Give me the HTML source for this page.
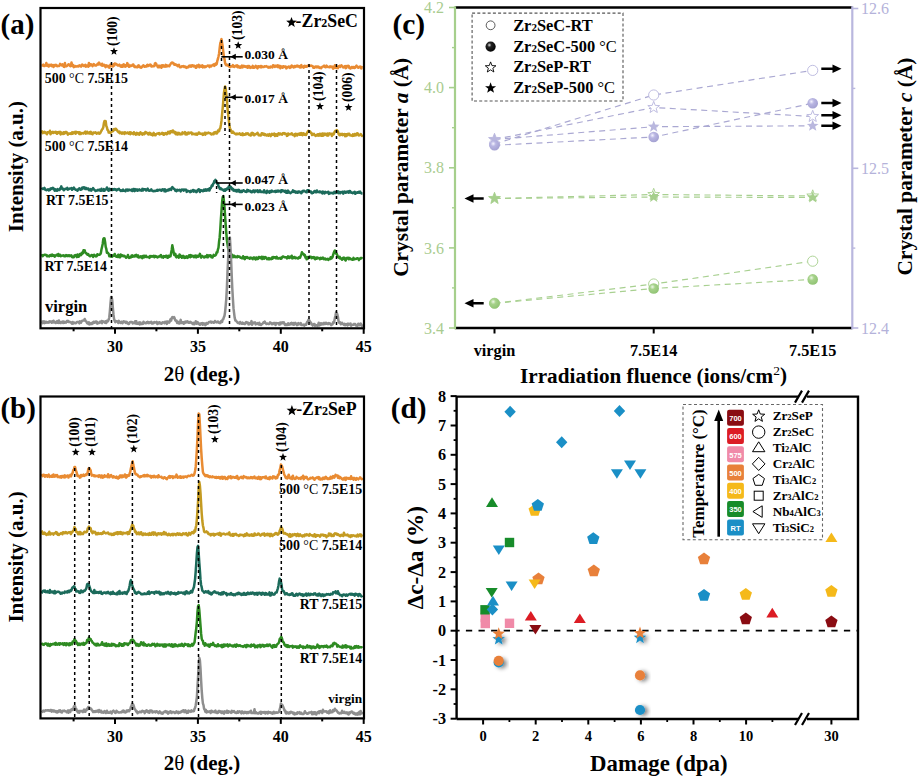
<!DOCTYPE html>
<html><head><meta charset="utf-8"><style>
html,body{margin:0;padding:0;background:#fff;width:918px;height:780px;overflow:hidden}
svg{display:block}
</style></head><body>
<svg width="918" height="780" viewBox="0 0 918 780">
<defs>
<radialGradient id="gLV" cx="0.38" cy="0.35" r="0.7"><stop offset="0" stop-color="#f4f3ff"/><stop offset="0.35" stop-color="#b9b6e2"/><stop offset="1" stop-color="#a29fd0"/></radialGradient>
<radialGradient id="gGL" cx="0.38" cy="0.35" r="0.7"><stop offset="0" stop-color="#eef8e6"/><stop offset="0.35" stop-color="#a6d28a"/><stop offset="1" stop-color="#8fc272"/></radialGradient>
<radialGradient id="gBK" cx="0.38" cy="0.35" r="0.7"><stop offset="0" stop-color="#ddd"/><stop offset="0.3" stop-color="#222"/><stop offset="1" stop-color="#000"/></radialGradient>
<filter id="sh" x="-50%" y="-50%" width="200%" height="200%"><feGaussianBlur in="SourceAlpha" stdDeviation="2.3"/><feOffset dx="2.8" dy="1.0"/><feComponentTransfer><feFuncA type="linear" slope="0.5"/></feComponentTransfer><feMerge><feMergeNode/><feMergeNode in="SourceGraphic"/></feMerge></filter>
</defs>
<rect width="918" height="780" fill="#fff"/>
<polyline points="41.5,65.7 42.1,65.6 42.7,65.3 43.3,64.7 43.9,66.0 44.5,66.1 45.1,65.5 45.7,65.0 46.3,63.0 46.9,65.7 47.5,65.2 48.1,64.7 48.7,66.5 49.3,64.9 49.9,65.8 50.5,65.3 51.1,64.7 51.7,66.1 52.3,65.0 52.9,65.6 53.5,67.0 54.1,65.0 54.7,65.9 55.3,65.2 55.9,64.8 56.5,65.1 57.1,66.3 57.7,66.0 58.3,66.0 58.9,66.1 59.5,65.5 60.1,63.9 60.7,64.5 61.3,65.0 61.9,65.4 62.5,64.3 63.1,64.9 63.7,66.7 64.3,66.9 64.9,63.1 65.5,66.2 66.1,66.2 66.7,66.2 67.3,65.6 67.9,65.1 68.5,64.3 69.1,64.4 69.7,65.5 70.3,66.2 70.9,66.0 71.5,62.4 72.1,65.2 72.7,66.1 73.3,65.0 73.9,67.1 74.5,66.9 75.1,66.4 75.7,66.1 76.3,66.6 76.9,66.4 77.5,66.1 78.1,66.6 78.7,66.4 79.3,65.4 79.9,66.1 80.5,66.1 81.1,66.7 81.7,64.9 82.3,64.5 82.9,65.3 83.5,65.8 84.1,66.1 84.7,65.5 85.3,64.8 85.9,66.7 86.5,65.7 87.1,65.6 87.7,66.3 88.3,66.6 88.9,63.0 89.5,65.9 90.1,65.3 90.7,64.2 91.3,64.4 91.9,65.2 92.5,66.2 93.1,64.9 93.7,64.1 94.3,64.5 94.9,65.4 95.5,65.4 96.1,65.6 96.7,65.1 97.3,64.3 97.9,63.6 98.5,64.4 99.1,62.6 99.7,64.0 100.3,64.5 100.9,64.4 101.5,65.5 102.1,63.8 102.7,65.7 103.3,65.6 103.9,64.7 104.5,65.0 105.1,66.4 105.7,67.1 106.3,65.4 106.9,65.8 107.5,66.4 108.1,65.8 108.7,67.4 109.3,67.7 109.9,65.8 110.5,64.6 111.1,66.0 111.7,66.1 112.3,65.6 112.9,66.5 113.5,64.2 114.1,65.7 114.7,63.5 115.3,63.7 115.9,63.7 116.5,64.6 117.1,64.6 117.7,65.4 118.3,65.5 118.9,65.3 119.5,64.6 120.1,65.6 120.7,66.6 121.3,66.7 121.9,65.4 122.5,66.8 123.1,64.8 123.7,64.4 124.3,66.1 124.9,65.1 125.5,66.7 126.1,65.5 126.7,66.0 127.3,63.1 127.9,65.6 128.5,64.6 129.1,66.8 129.7,66.6 130.3,65.5 130.9,65.7 131.5,66.0 132.1,65.3 132.7,64.7 133.3,64.5 133.9,66.4 134.5,65.8 135.1,67.2 135.7,66.8 136.3,66.8 136.9,67.3 137.5,67.2 138.1,65.7 138.7,65.4 139.3,66.8 139.9,67.2 140.5,66.9 141.1,67.7 141.7,67.2 142.3,66.4 142.9,65.7 143.5,65.4 144.1,66.5 144.7,66.8 145.3,66.5 145.9,66.1 146.5,66.5 147.1,64.9 147.7,64.8 148.3,65.9 148.9,65.3 149.5,65.4 150.1,64.6 150.7,64.7 151.3,66.4 151.9,66.4 152.5,66.0 153.1,66.3 153.7,66.3 154.3,66.1 154.9,63.5 155.5,63.1 156.1,63.6 156.7,65.4 157.3,65.8 157.9,67.2 158.5,65.7 159.1,67.3 159.7,65.9 160.3,66.6 160.9,65.8 161.5,67.8 162.1,65.3 162.7,66.5 163.3,65.3 163.9,66.5 164.5,66.2 165.1,66.6 165.7,64.9 166.3,66.5 166.9,65.3 167.5,66.1 168.1,65.7 168.7,65.7 169.3,66.2 169.9,64.9 170.5,64.2 171.1,63.2 171.7,62.7 172.3,62.5 172.9,63.3 173.5,63.1 174.1,64.6 174.7,64.8 175.3,64.2 175.9,64.7 176.5,65.2 177.1,65.0 177.7,66.2 178.3,65.5 178.9,64.8 179.5,66.7 180.1,67.3 180.7,67.2 181.3,66.7 181.9,66.2 182.5,66.5 183.1,66.5 183.7,66.0 184.3,67.0 184.9,67.1 185.5,66.6 186.1,67.7 186.7,67.9 187.3,67.0 187.9,66.9 188.5,67.2 189.1,65.7 189.7,65.9 190.3,65.6 190.9,66.8 191.5,65.8 192.1,65.2 192.7,65.4 193.3,66.5 193.9,65.5 194.5,65.8 195.1,66.5 195.7,67.7 196.3,67.8 196.9,65.4 197.5,66.4 198.1,66.1 198.7,64.8 199.3,67.2 199.9,65.7 200.5,65.8 201.1,66.6 201.7,66.2 202.3,65.2 202.9,67.4 203.5,66.9 204.1,66.3 204.7,67.2 205.3,66.4 205.9,66.9 206.5,66.3 207.1,66.0 207.7,65.6 208.3,65.9 208.9,65.7 209.5,67.1 210.1,65.6 210.7,65.8 211.3,66.4 211.9,65.4 212.5,65.3 213.1,64.9 213.7,64.3 214.3,65.9 214.9,64.6 215.5,63.6 216.1,64.6 216.7,64.0 217.3,60.9 217.9,59.0 218.5,56.5 219.1,53.5 219.7,47.9 220.3,43.2 220.9,41.3 221.5,39.1 222.1,42.9 222.7,46.8 223.3,51.9 223.9,57.0 224.5,59.2 225.1,63.0 225.7,64.5 226.3,65.3 226.9,64.6 227.5,65.3 228.1,65.7 228.7,65.5 229.3,66.5 229.9,67.1 230.5,66.7 231.1,66.2 231.7,66.6 232.3,66.3 232.9,65.1 233.5,66.7 234.1,67.0 234.7,66.4 235.3,65.7 235.9,65.8 236.5,66.5 237.1,65.4 237.7,67.2 238.3,66.0 238.9,67.0 239.5,67.6 240.1,66.5 240.7,67.7 241.3,66.6 241.9,65.5 242.5,67.4 243.1,66.6 243.7,65.7 244.3,66.3 244.9,66.8 245.5,66.3 246.1,67.1 246.7,67.3 247.3,66.1 247.9,67.7 248.5,66.1 249.1,66.1 249.7,66.5 250.3,67.9 250.9,67.2 251.5,67.4 252.1,67.5 252.7,65.9 253.3,67.8 253.9,66.8 254.5,67.6 255.1,66.8 255.7,65.8 256.3,66.5 256.9,67.7 257.5,68.3 258.1,66.2 258.7,66.2 259.3,67.1 259.9,66.9 260.5,66.0 261.1,67.4 261.7,66.1 262.3,67.0 262.9,66.8 263.5,67.1 264.1,66.8 264.7,66.3 265.3,66.5 265.9,66.6 266.5,66.1 267.1,66.6 267.7,67.1 268.3,67.7 268.9,66.8 269.5,67.4 270.1,67.6 270.7,66.6 271.3,67.0 271.9,66.7 272.5,67.4 273.1,65.2 273.7,66.2 274.3,65.7 274.9,66.9 275.5,65.7 276.1,65.8 276.7,65.8 277.3,66.9 277.9,65.3 278.5,67.1 279.1,66.1 279.7,65.8 280.3,68.2 280.9,66.7 281.5,66.4 282.1,66.8 282.7,67.7 283.3,66.2 283.9,66.3 284.5,66.9 285.1,66.7 285.7,66.5 286.3,68.4 286.9,67.6 287.5,67.5 288.1,67.0 288.7,66.5 289.3,66.9 289.9,68.0 290.5,66.5 291.1,67.2 291.7,65.5 292.3,66.2 292.9,66.2 293.5,67.5 294.1,67.3 294.7,66.0 295.3,67.0 295.9,66.6 296.5,65.9 297.1,65.6 297.7,66.5 298.3,66.1 298.9,66.0 299.5,67.1 300.1,67.5 300.7,66.1 301.3,65.1 301.9,67.1 302.5,66.7 303.1,66.7 303.7,67.6 304.3,65.9 304.9,65.8 305.5,66.7 306.1,66.2 306.7,66.7 307.3,65.7 307.9,66.2 308.5,65.6 309.1,65.2 309.7,66.0 310.3,65.8 310.9,65.6 311.5,65.7 312.1,66.0 312.7,66.3 313.3,67.7 313.9,66.9 314.5,67.7 315.1,67.1 315.7,66.4 316.3,66.5 316.9,67.4 317.5,66.7 318.1,66.5 318.7,66.9 319.3,68.0 319.9,67.7 320.5,67.5 321.1,68.2 321.7,67.4 322.3,66.7 322.9,66.6 323.5,66.3 324.1,65.7 324.7,66.9 325.3,67.2 325.9,67.2 326.5,65.6 327.1,66.3 327.7,67.0 328.3,67.0 328.9,67.0 329.5,67.3 330.1,66.4 330.7,66.8 331.3,67.1 331.9,66.5 332.5,67.5 333.1,68.6 333.7,66.7 334.3,67.9 334.9,65.3 335.5,66.7 336.1,68.0 336.7,67.4 337.3,67.2 337.9,68.1 338.5,66.2 339.1,66.9 339.7,65.7 340.3,66.9 340.9,66.4 341.5,65.4 342.1,66.4 342.7,66.6 343.3,67.4 343.9,67.3 344.5,66.4 345.1,66.1 345.7,68.1 346.3,67.8 346.9,66.1 347.5,66.3 348.1,65.8 348.7,65.9 349.3,68.0 349.9,67.9 350.5,68.5 351.1,67.5 351.7,67.0 352.3,66.9 352.9,68.0 353.5,67.0 354.1,67.2 354.7,68.0 355.3,67.7 355.9,66.3 356.5,65.7 357.1,66.6 357.7,66.8 358.3,67.8 358.9,67.5 359.5,67.1 360.1,66.5 360.7,67.0 361.3,68.4 361.9,67.1 362.5,67.4" fill="none" stroke="#e98b32" stroke-width="2.5" stroke-linejoin="round"/>
<polyline points="41.5,133.1 42.1,131.4 42.7,133.1 43.3,132.7 43.9,132.2 44.5,131.7 45.1,132.9 45.7,132.6 46.3,132.9 46.9,134.3 47.5,132.3 48.1,132.4 48.7,132.0 49.3,132.5 49.9,130.8 50.5,134.2 51.1,132.6 51.7,132.2 52.3,132.9 52.9,131.8 53.5,132.9 54.1,132.5 54.7,132.6 55.3,131.7 55.9,133.0 56.5,132.0 57.1,133.8 57.7,132.3 58.3,132.2 58.9,132.1 59.5,133.1 60.1,131.9 60.7,134.5 61.3,132.5 61.9,133.5 62.5,133.1 63.1,133.9 63.7,132.2 64.3,133.6 64.9,133.2 65.5,132.1 66.1,132.0 66.7,132.2 67.3,133.4 67.9,134.6 68.5,133.6 69.1,133.7 69.7,133.8 70.3,133.3 70.9,134.0 71.5,133.8 72.1,132.4 72.7,133.6 73.3,132.4 73.9,133.1 74.5,132.8 75.1,131.9 75.7,133.7 76.3,131.9 76.9,132.6 77.5,132.5 78.1,132.3 78.7,132.5 79.3,133.9 79.9,132.3 80.5,134.0 81.1,133.9 81.7,133.0 82.3,133.2 82.9,133.4 83.5,133.6 84.1,132.8 84.7,132.2 85.3,131.6 85.9,133.6 86.5,133.4 87.1,131.7 87.7,133.2 88.3,133.1 88.9,132.6 89.5,133.5 90.1,132.1 90.7,131.7 91.3,133.8 91.9,132.8 92.5,134.3 93.1,132.6 93.7,132.4 94.3,132.9 94.9,132.6 95.5,132.2 96.1,133.0 96.7,133.8 97.3,133.1 97.9,132.8 98.5,132.6 99.1,133.8 99.7,133.6 100.3,133.1 100.9,131.8 101.5,130.6 102.1,129.4 102.7,128.8 103.3,127.3 103.9,123.2 104.5,121.1 105.1,121.1 105.7,121.2 106.3,126.0 106.9,127.3 107.5,130.1 108.1,130.2 108.7,132.6 109.3,131.9 109.9,132.8 110.5,132.9 111.1,132.1 111.7,131.9 112.3,131.0 112.9,131.2 113.5,129.9 114.1,129.0 114.7,130.0 115.3,128.9 115.9,128.7 116.5,129.7 117.1,130.2 117.7,131.3 118.3,131.9 118.9,132.5 119.5,131.6 120.1,133.2 120.7,132.7 121.3,132.6 121.9,133.8 122.5,132.5 123.1,132.5 123.7,133.4 124.3,133.9 124.9,132.2 125.5,133.3 126.1,133.0 126.7,133.2 127.3,132.5 127.9,132.7 128.5,133.7 129.1,133.2 129.7,132.2 130.3,134.2 130.9,132.4 131.5,133.5 132.1,133.3 132.7,133.2 133.3,134.1 133.9,132.2 134.5,133.0 135.1,133.6 135.7,134.7 136.3,134.6 136.9,132.9 137.5,134.2 138.1,133.4 138.7,133.8 139.3,134.7 139.9,133.2 140.5,132.3 141.1,133.3 141.7,133.6 142.3,134.6 142.9,133.3 143.5,133.5 144.1,134.3 144.7,134.0 145.3,132.0 145.9,132.2 146.5,132.7 147.1,133.3 147.7,133.1 148.3,134.5 148.9,134.3 149.5,132.8 150.1,132.9 150.7,134.5 151.3,134.8 151.9,133.9 152.5,135.4 153.1,133.7 153.7,132.9 154.3,135.1 154.9,134.1 155.5,135.3 156.1,134.4 156.7,133.9 157.3,133.5 157.9,133.4 158.5,133.9 159.1,133.1 159.7,134.4 160.3,133.8 160.9,133.7 161.5,133.8 162.1,132.9 162.7,134.3 163.3,133.2 163.9,134.8 164.5,133.8 165.1,133.4 165.7,133.0 166.3,134.2 166.9,134.2 167.5,133.0 168.1,131.9 168.7,133.1 169.3,131.7 169.9,133.4 170.5,131.3 171.1,131.9 171.7,131.1 172.3,132.2 172.9,130.5 173.5,131.4 174.1,131.7 174.7,133.2 175.3,132.0 175.9,134.3 176.5,133.1 177.1,132.8 177.7,134.5 178.3,134.1 178.9,132.9 179.5,133.4 180.1,134.5 180.7,134.1 181.3,133.5 181.9,134.2 182.5,132.4 183.1,133.5 183.7,133.1 184.3,133.1 184.9,132.1 185.5,134.4 186.1,133.0 186.7,134.4 187.3,134.3 187.9,132.7 188.5,132.6 189.1,133.4 189.7,132.7 190.3,132.8 190.9,132.6 191.5,132.5 192.1,134.3 192.7,133.3 193.3,134.0 193.9,134.1 194.5,134.3 195.1,133.8 195.7,134.5 196.3,133.5 196.9,134.8 197.5,134.2 198.1,133.7 198.7,132.5 199.3,132.7 199.9,133.7 200.5,133.7 201.1,134.0 201.7,134.0 202.3,133.5 202.9,134.9 203.5,134.1 204.1,133.9 204.7,132.7 205.3,134.7 205.9,133.0 206.5,133.1 207.1,133.5 207.7,133.2 208.3,132.5 208.9,132.8 209.5,133.2 210.1,133.2 210.7,133.4 211.3,134.5 211.9,134.3 212.5,133.7 213.1,133.3 213.7,134.2 214.3,132.4 214.9,133.1 215.5,132.1 216.1,133.4 216.7,133.6 217.3,132.7 217.9,130.6 218.5,131.4 219.1,131.1 219.7,128.7 220.3,128.3 220.9,124.9 221.5,120.7 222.1,114.2 222.7,108.0 223.3,101.0 223.9,93.3 224.5,89.0 225.1,86.4 225.7,88.3 226.3,94.3 226.9,100.1 227.5,108.1 228.1,114.2 228.7,119.4 229.3,124.9 229.9,128.3 230.5,129.3 231.1,130.8 231.7,132.7 232.3,132.7 232.9,131.5 233.5,133.0 234.1,132.8 234.7,133.5 235.3,133.9 235.9,134.4 236.5,133.7 237.1,133.6 237.7,134.3 238.3,133.9 238.9,134.0 239.5,133.2 240.1,134.0 240.7,134.8 241.3,134.3 241.9,134.9 242.5,133.3 243.1,135.1 243.7,134.0 244.3,134.5 244.9,134.8 245.5,134.4 246.1,133.4 246.7,134.2 247.3,133.8 247.9,133.3 248.5,133.9 249.1,135.0 249.7,134.9 250.3,135.4 250.9,135.4 251.5,133.2 252.1,132.9 252.7,134.5 253.3,133.3 253.9,135.2 254.5,135.2 255.1,134.2 255.7,134.3 256.3,133.9 256.9,133.5 257.5,132.8 258.1,134.4 258.7,135.3 259.3,134.8 259.9,135.3 260.5,135.6 261.1,135.4 261.7,133.3 262.3,134.2 262.9,133.4 263.5,134.6 264.1,133.7 264.7,135.1 265.3,134.2 265.9,135.0 266.5,135.5 267.1,134.7 267.7,134.6 268.3,135.8 268.9,135.2 269.5,134.1 270.1,134.8 270.7,136.1 271.3,135.3 271.9,133.9 272.5,134.2 273.1,134.6 273.7,133.8 274.3,133.5 274.9,136.0 275.5,134.6 276.1,134.3 276.7,135.8 277.3,135.8 277.9,133.9 278.5,133.3 279.1,133.5 279.7,134.5 280.3,133.6 280.9,134.3 281.5,134.3 282.1,134.6 282.7,133.3 283.3,133.3 283.9,133.0 284.5,133.9 285.1,133.4 285.7,133.6 286.3,134.1 286.9,135.9 287.5,135.7 288.1,133.5 288.7,134.7 289.3,134.1 289.9,134.3 290.5,134.3 291.1,133.9 291.7,133.2 292.3,134.6 292.9,135.0 293.5,135.1 294.1,134.5 294.7,136.1 295.3,133.9 295.9,133.7 296.5,135.0 297.1,135.5 297.7,134.2 298.3,133.7 298.9,134.2 299.5,134.7 300.1,133.4 300.7,134.8 301.3,133.1 301.9,134.0 302.5,135.1 303.1,133.2 303.7,133.4 304.3,134.7 304.9,134.1 305.5,134.8 306.1,135.0 306.7,133.8 307.3,132.3 307.9,131.3 308.5,130.8 309.1,131.4 309.7,131.3 310.3,131.8 310.9,133.0 311.5,133.1 312.1,135.0 312.7,134.2 313.3,134.1 313.9,133.9 314.5,135.1 315.1,134.9 315.7,136.0 316.3,135.1 316.9,135.1 317.5,134.4 318.1,135.6 318.7,134.3 319.3,135.4 319.9,133.7 320.5,135.6 321.1,135.5 321.7,135.8 322.3,133.4 322.9,135.8 323.5,133.9 324.1,133.5 324.7,135.0 325.3,134.0 325.9,133.8 326.5,134.1 327.1,135.6 327.7,133.5 328.3,135.5 328.9,134.2 329.5,133.4 330.1,133.9 330.7,134.2 331.3,133.9 331.9,136.0 332.5,133.8 333.1,134.6 333.7,134.5 334.3,132.5 334.9,131.3 335.5,130.7 336.1,131.0 336.7,130.1 337.3,130.5 337.9,131.6 338.5,133.6 339.1,134.8 339.7,135.3 340.3,134.0 340.9,134.9 341.5,134.7 342.1,133.7 342.7,135.2 343.3,134.2 343.9,134.3 344.5,134.0 345.1,136.2 345.7,134.4 346.3,136.0 346.9,134.2 347.5,135.3 348.1,133.8 348.7,134.1 349.3,133.8 349.9,135.2 350.5,135.4 351.1,135.4 351.7,135.6 352.3,135.9 352.9,134.4 353.5,135.8 354.1,135.7 354.7,134.0 355.3,134.8 355.9,135.4 356.5,133.7 357.1,133.3 357.7,133.5 358.3,135.1 358.9,135.5 359.5,135.1 360.1,134.9 360.7,134.0 361.3,134.9 361.9,135.9 362.5,134.9" fill="none" stroke="#c49b22" stroke-width="2.5" stroke-linejoin="round"/>
<polyline points="41.5,189.5 42.1,188.7 42.7,188.5 43.3,188.9 43.9,188.6 44.5,187.9 45.1,189.6 45.7,189.9 46.3,190.2 46.9,189.8 47.5,189.6 48.1,189.2 48.7,190.5 49.3,190.0 49.9,189.9 50.5,188.5 51.1,189.0 51.7,188.2 52.3,188.3 52.9,187.9 53.5,189.1 54.1,188.7 54.7,190.7 55.3,189.4 55.9,190.5 56.5,189.8 57.1,190.7 57.7,189.1 58.3,190.0 58.9,189.6 59.5,190.0 60.1,188.3 60.7,188.4 61.3,186.4 61.9,188.6 62.5,188.2 63.1,188.9 63.7,190.3 64.3,189.7 64.9,189.0 65.5,188.7 66.1,189.0 66.7,188.9 67.3,187.8 67.9,189.6 68.5,189.3 69.1,189.0 69.7,188.7 70.3,188.4 70.9,188.7 71.5,188.0 72.1,189.8 72.7,188.8 73.3,188.7 73.9,187.5 74.5,188.8 75.1,189.2 75.7,189.8 76.3,189.7 76.9,189.8 77.5,190.8 78.1,189.6 78.7,189.0 79.3,188.3 79.9,189.3 80.5,189.7 81.1,188.7 81.7,189.3 82.3,187.6 82.9,188.4 83.5,187.5 84.1,187.3 84.7,188.4 85.3,189.0 85.9,187.8 86.5,189.1 87.1,189.1 87.7,188.4 88.3,188.4 88.9,190.2 89.5,190.2 90.1,190.1 90.7,189.0 91.3,190.6 91.9,189.4 92.5,189.3 93.1,188.1 93.7,189.2 94.3,189.7 94.9,190.2 95.5,191.0 96.1,190.7 96.7,190.5 97.3,190.5 97.9,189.9 98.5,190.3 99.1,190.3 99.7,189.5 100.3,190.7 100.9,190.8 101.5,188.8 102.1,190.5 102.7,190.1 103.3,190.7 103.9,189.1 104.5,190.8 105.1,189.7 105.7,189.5 106.3,189.1 106.9,187.5 107.5,188.9 108.1,190.3 108.7,190.8 109.3,188.8 109.9,189.9 110.5,190.1 111.1,189.0 111.7,189.9 112.3,190.1 112.9,189.1 113.5,189.7 114.1,189.5 114.7,189.0 115.3,189.8 115.9,189.4 116.5,190.4 117.1,190.0 117.7,189.2 118.3,189.2 118.9,188.9 119.5,190.0 120.1,189.9 120.7,190.9 121.3,190.4 121.9,190.9 122.5,190.8 123.1,189.6 123.7,190.8 124.3,190.7 124.9,190.7 125.5,191.2 126.1,189.6 126.7,190.2 127.3,189.5 127.9,190.7 128.5,190.0 129.1,189.6 129.7,190.2 130.3,190.2 130.9,190.3 131.5,189.5 132.1,191.1 132.7,191.0 133.3,189.0 133.9,189.6 134.5,191.1 135.1,189.1 135.7,190.5 136.3,189.6 136.9,189.4 137.5,190.8 138.1,190.4 138.7,190.1 139.3,189.4 139.9,190.3 140.5,190.1 141.1,190.6 141.7,190.2 142.3,188.9 142.9,190.5 143.5,189.1 144.1,189.3 144.7,189.5 145.3,189.3 145.9,190.4 146.5,190.4 147.1,189.3 147.7,188.7 148.3,190.1 148.9,190.7 149.5,190.8 150.1,190.6 150.7,190.0 151.3,189.4 151.9,190.5 152.5,191.0 153.1,190.9 153.7,191.3 154.3,191.1 154.9,190.7 155.5,191.0 156.1,190.6 156.7,190.7 157.3,189.7 157.9,190.6 158.5,190.1 159.1,190.0 159.7,189.7 160.3,190.2 160.9,189.8 161.5,190.8 162.1,190.2 162.7,189.3 163.3,189.4 163.9,189.5 164.5,191.3 165.1,189.4 165.7,191.4 166.3,190.6 166.9,190.7 167.5,189.9 168.1,190.2 168.7,190.5 169.3,189.1 169.9,189.5 170.5,188.9 171.1,189.9 171.7,188.1 172.3,187.1 172.9,187.7 173.5,188.5 174.1,188.9 174.7,189.3 175.3,190.7 175.9,190.7 176.5,191.1 177.1,189.7 177.7,190.5 178.3,190.5 178.9,190.2 179.5,189.7 180.1,190.4 180.7,191.4 181.3,189.9 181.9,189.5 182.5,190.0 183.1,189.6 183.7,190.6 184.3,189.5 184.9,189.8 185.5,189.6 186.1,189.8 186.7,191.9 187.3,190.7 187.9,191.0 188.5,190.9 189.1,191.4 189.7,191.4 190.3,192.1 190.9,190.8 191.5,191.6 192.1,191.0 192.7,190.2 193.3,190.0 193.9,191.6 194.5,190.6 195.1,191.1 195.7,190.8 196.3,192.2 196.9,191.8 197.5,190.4 198.1,189.8 198.7,189.2 199.3,189.6 199.9,192.0 200.5,190.3 201.1,190.7 201.7,190.2 202.3,190.8 202.9,191.2 203.5,191.1 204.1,189.6 204.7,190.8 205.3,189.7 205.9,189.2 206.5,190.7 207.1,190.4 207.7,189.4 208.3,190.3 208.9,188.9 209.5,190.5 210.1,188.1 210.7,188.2 211.3,186.8 211.9,185.3 212.5,186.0 213.1,183.7 213.7,183.3 214.3,181.1 214.9,181.6 215.5,179.9 216.1,181.4 216.7,183.0 217.3,183.9 217.9,183.3 218.5,186.3 219.1,187.0 219.7,188.6 220.3,189.2 220.9,188.2 221.5,188.9 222.1,189.5 222.7,189.6 223.3,190.3 223.9,190.8 224.5,189.5 225.1,190.8 225.7,189.2 226.3,189.9 226.9,188.6 227.5,188.6 228.1,188.9 228.7,186.5 229.3,187.8 229.9,187.3 230.5,186.6 231.1,187.3 231.7,189.3 232.3,188.4 232.9,188.9 233.5,190.6 234.1,189.7 234.7,190.1 235.3,191.0 235.9,190.1 236.5,191.5 237.1,190.0 237.7,191.3 238.3,191.4 238.9,189.8 239.5,191.1 240.1,192.1 240.7,192.0 241.3,190.8 241.9,192.0 242.5,191.1 243.1,190.5 243.7,190.2 244.3,191.0 244.9,191.2 245.5,191.8 246.1,191.5 246.7,191.9 247.3,189.9 247.9,190.5 248.5,190.2 249.1,191.3 249.7,191.3 250.3,190.9 250.9,191.9 251.5,192.3 252.1,192.1 252.7,190.9 253.3,191.2 253.9,190.4 254.5,192.2 255.1,191.6 255.7,190.6 256.3,191.2 256.9,191.1 257.5,190.2 258.1,192.1 258.7,192.1 259.3,191.0 259.9,190.3 260.5,191.0 261.1,192.0 261.7,192.0 262.3,192.0 262.9,191.7 263.5,192.1 264.1,190.2 264.7,192.3 265.3,192.2 265.9,192.1 266.5,192.9 267.1,190.7 267.7,191.0 268.3,192.1 268.9,192.0 269.5,192.7 270.1,191.0 270.7,191.9 271.3,191.9 271.9,190.6 272.5,191.6 273.1,191.4 273.7,191.6 274.3,191.4 274.9,191.1 275.5,192.0 276.1,190.8 276.7,191.8 277.3,190.8 277.9,190.5 278.5,191.5 279.1,191.1 279.7,191.2 280.3,190.8 280.9,192.2 281.5,190.2 282.1,191.3 282.7,190.3 283.3,191.0 283.9,191.1 284.5,191.8 285.1,190.7 285.7,192.2 286.3,192.7 286.9,191.0 287.5,192.8 288.1,190.6 288.7,191.6 289.3,192.6 289.9,192.7 290.5,193.1 291.1,192.5 291.7,192.2 292.3,191.7 292.9,190.4 293.5,191.9 294.1,191.3 294.7,191.0 295.3,192.4 295.9,192.7 296.5,191.7 297.1,191.7 297.7,192.8 298.3,191.5 298.9,192.3 299.5,191.5 300.1,192.2 300.7,192.5 301.3,193.3 301.9,191.5 302.5,192.1 303.1,190.7 303.7,191.1 304.3,190.7 304.9,191.4 305.5,191.4 306.1,192.1 306.7,192.3 307.3,190.3 307.9,191.5 308.5,190.2 309.1,190.6 309.7,191.6 310.3,191.4 310.9,191.5 311.5,193.1 312.1,193.3 312.7,192.5 313.3,192.8 313.9,191.9 314.5,191.0 315.1,191.0 315.7,192.2 316.3,192.3 316.9,190.5 317.5,191.5 318.1,191.9 318.7,191.9 319.3,192.2 319.9,191.4 320.5,192.3 321.1,191.9 321.7,192.5 322.3,193.4 322.9,191.6 323.5,192.0 324.1,193.3 324.7,193.4 325.3,191.8 325.9,192.4 326.5,192.4 327.1,192.6 327.7,191.9 328.3,191.8 328.9,193.9 329.5,192.8 330.1,192.8 330.7,193.2 331.3,193.1 331.9,192.8 332.5,192.9 333.1,193.5 333.7,193.3 334.3,191.9 334.9,192.9 335.5,192.0 336.1,192.9 336.7,192.7 337.3,191.6 337.9,191.3 338.5,193.1 339.1,191.9 339.7,193.1 340.3,193.3 340.9,192.1 341.5,192.4 342.1,191.9 342.7,191.7 343.3,193.6 343.9,191.9 344.5,191.5 345.1,192.5 345.7,192.8 346.3,191.7 346.9,191.7 347.5,192.2 348.1,191.4 348.7,192.8 349.3,191.2 349.9,191.0 350.5,191.6 351.1,192.7 351.7,192.6 352.3,192.7 352.9,193.2 353.5,192.6 354.1,192.2 354.7,191.9 355.3,193.8 355.9,193.2 356.5,192.5 357.1,192.8 357.7,192.2 358.3,192.6 358.9,191.7 359.5,192.6 360.1,191.6 360.7,193.0 361.3,193.1 361.9,193.6 362.5,193.7" fill="none" stroke="#1c6b5b" stroke-width="2.5" stroke-linejoin="round"/>
<polyline points="41.5,255.6 42.1,255.1 42.7,256.1 43.3,255.6 43.9,254.9 44.5,254.8 45.1,254.7 45.7,254.9 46.3,255.0 46.9,256.2 47.5,255.5 48.1,256.3 48.7,256.2 49.3,256.4 49.9,255.2 50.5,255.6 51.1,254.9 51.7,256.0 52.3,254.6 52.9,255.7 53.5,255.5 54.1,255.3 54.7,256.7 55.3,255.9 55.9,255.5 56.5,254.8 57.1,255.0 57.7,255.6 58.3,254.0 58.9,255.9 59.5,255.7 60.1,254.8 60.7,256.3 61.3,255.5 61.9,255.8 62.5,255.6 63.1,255.6 63.7,255.3 64.3,256.2 64.9,256.2 65.5,256.2 66.1,255.1 66.7,255.3 67.3,256.1 67.9,255.6 68.5,255.2 69.1,256.2 69.7,255.2 70.3,255.6 70.9,256.2 71.5,255.4 72.1,257.1 72.7,257.3 73.3,256.7 73.9,257.1 74.5,255.5 75.1,255.3 75.7,255.0 76.3,256.3 76.9,257.1 77.5,254.4 78.1,256.8 78.7,256.7 79.3,255.3 79.9,254.1 80.5,255.3 81.1,255.1 81.7,252.9 82.3,253.7 82.9,253.3 83.5,250.2 84.1,250.7 84.7,250.4 85.3,252.5 85.9,253.2 86.5,253.3 87.1,254.5 87.7,254.8 88.3,254.1 88.9,255.1 89.5,256.0 90.1,256.3 90.7,255.7 91.3,255.2 91.9,255.0 92.5,255.9 93.1,256.9 93.7,254.9 94.3,254.8 94.9,255.5 95.5,256.1 96.1,256.5 96.7,256.2 97.3,254.3 97.9,254.9 98.5,254.8 99.1,254.8 99.7,254.8 100.3,254.1 100.9,252.9 101.5,249.2 102.1,246.7 102.7,244.0 103.3,239.2 103.9,238.2 104.5,238.4 105.1,241.9 105.7,246.8 106.3,248.8 106.9,252.7 107.5,252.4 108.1,253.2 108.7,253.8 109.3,256.3 109.9,254.8 110.5,255.3 111.1,256.8 111.7,255.4 112.3,256.7 112.9,255.6 113.5,255.5 114.1,255.8 114.7,254.0 115.3,255.9 115.9,255.7 116.5,256.8 117.1,256.6 117.7,256.9 118.3,254.7 118.9,256.3 119.5,257.3 120.1,257.2 120.7,254.4 121.3,255.8 121.9,256.0 122.5,255.2 123.1,256.0 123.7,256.2 124.3,255.8 124.9,256.2 125.5,257.0 126.1,257.8 126.7,256.8 127.3,257.0 127.9,255.0 128.5,256.6 129.1,257.9 129.7,257.5 130.3,257.4 130.9,257.4 131.5,255.7 132.1,255.4 132.7,256.6 133.3,255.9 133.9,256.5 134.5,256.6 135.1,255.2 135.7,256.1 136.3,254.8 136.9,255.4 137.5,256.9 138.1,255.5 138.7,257.5 139.3,257.2 139.9,257.4 140.5,256.5 141.1,256.3 141.7,256.9 142.3,258.2 142.9,255.9 143.5,257.4 144.1,255.7 144.7,257.1 145.3,256.9 145.9,255.7 146.5,257.0 147.1,257.1 147.7,257.1 148.3,257.0 148.9,257.2 149.5,257.8 150.1,256.0 150.7,256.4 151.3,256.7 151.9,256.1 152.5,256.6 153.1,256.1 153.7,255.8 154.3,257.3 154.9,255.9 155.5,255.9 156.1,256.8 156.7,256.5 157.3,257.4 157.9,256.9 158.5,257.1 159.1,256.3 159.7,256.4 160.3,255.8 160.9,255.0 161.5,257.3 162.1,257.0 162.7,256.5 163.3,257.6 163.9,256.1 164.5,256.4 165.1,256.9 165.7,256.0 166.3,255.8 166.9,256.0 167.5,257.8 168.1,257.6 168.7,255.7 169.3,256.8 169.9,255.9 170.5,256.3 171.1,253.0 171.7,249.9 172.3,245.3 172.9,248.3 173.5,251.5 174.1,254.9 174.7,255.0 175.3,253.8 175.9,256.7 176.5,257.3 177.1,256.0 177.7,256.7 178.3,256.9 178.9,257.6 179.5,254.4 180.1,255.4 180.7,256.7 181.3,256.0 181.9,257.8 182.5,256.8 183.1,255.9 183.7,256.7 184.3,257.9 184.9,256.6 185.5,257.7 186.1,257.4 186.7,256.4 187.3,257.9 187.9,257.5 188.5,256.5 189.1,255.3 189.7,255.5 190.3,257.2 190.9,255.1 191.5,256.7 192.1,255.9 192.7,255.8 193.3,256.1 193.9,257.2 194.5,255.8 195.1,256.9 195.7,255.6 196.3,257.4 196.9,255.8 197.5,255.9 198.1,256.7 198.7,255.6 199.3,255.9 199.9,253.9 200.5,256.2 201.1,257.6 201.7,255.9 202.3,256.0 202.9,256.5 203.5,256.8 204.1,257.5 204.7,256.6 205.3,256.3 205.9,257.0 206.5,257.1 207.1,255.1 207.7,257.3 208.3,256.2 208.9,255.4 209.5,256.1 210.1,255.3 210.7,255.5 211.3,257.2 211.9,256.7 212.5,257.5 213.1,256.2 213.7,254.8 214.3,255.8 214.9,255.6 215.5,255.2 216.1,254.4 216.7,252.2 217.3,252.5 217.9,249.6 218.5,247.6 219.1,241.4 219.7,237.2 220.3,229.2 220.9,219.0 221.5,210.7 222.1,202.1 222.7,197.1 223.3,196.1 223.9,200.9 224.5,207.2 225.1,216.3 225.7,225.1 226.3,232.8 226.9,240.2 227.5,244.0 228.1,248.0 228.7,250.2 229.3,252.4 229.9,253.6 230.5,253.3 231.1,254.3 231.7,256.4 232.3,254.8 232.9,257.2 233.5,256.8 234.1,255.7 234.7,256.4 235.3,257.1 235.9,256.5 236.5,256.9 237.1,257.3 237.7,256.1 238.3,256.5 238.9,256.8 239.5,256.5 240.1,257.4 240.7,257.8 241.3,257.8 241.9,258.3 242.5,258.1 243.1,256.3 243.7,258.4 244.3,257.1 244.9,259.1 245.5,257.4 246.1,257.0 246.7,257.6 247.3,257.1 247.9,258.0 248.5,257.9 249.1,257.9 249.7,258.7 250.3,257.5 250.9,258.2 251.5,257.7 252.1,258.6 252.7,259.1 253.3,257.8 253.9,257.4 254.5,257.8 255.1,259.0 255.7,259.4 256.3,257.5 256.9,258.0 257.5,259.0 258.1,258.8 258.7,257.1 259.3,257.1 259.9,257.4 260.5,258.1 261.1,257.8 261.7,256.7 262.3,259.1 262.9,258.3 263.5,257.0 264.1,258.7 264.7,258.1 265.3,257.1 265.9,257.5 266.5,257.9 267.1,259.2 267.7,258.9 268.3,259.2 268.9,258.0 269.5,259.3 270.1,258.5 270.7,258.9 271.3,259.1 271.9,257.6 272.5,258.6 273.1,257.0 273.7,257.9 274.3,257.3 274.9,257.3 275.5,257.3 276.1,258.4 276.7,256.9 277.3,257.8 277.9,258.6 278.5,258.6 279.1,258.3 279.7,258.1 280.3,257.7 280.9,258.8 281.5,258.6 282.1,257.2 282.7,256.6 283.3,256.5 283.9,257.0 284.5,257.3 285.1,257.2 285.7,257.2 286.3,257.4 286.9,258.4 287.5,257.8 288.1,256.3 288.7,257.2 289.3,258.0 289.9,256.7 290.5,257.3 291.1,257.5 291.7,255.8 292.3,258.4 292.9,257.3 293.5,258.0 294.1,256.9 294.7,257.0 295.3,258.3 295.9,257.8 296.5,257.7 297.1,258.2 297.7,258.5 298.3,258.6 298.9,257.3 299.5,257.6 300.1,257.7 300.7,255.8 301.3,254.9 301.9,252.3 302.5,253.8 303.1,253.6 303.7,254.1 304.3,255.4 304.9,255.1 305.5,257.6 306.1,257.3 306.7,259.3 307.3,257.1 307.9,258.7 308.5,257.0 309.1,257.0 309.7,256.6 310.3,257.1 310.9,256.9 311.5,258.1 312.1,257.4 312.7,257.2 313.3,258.0 313.9,257.0 314.5,257.8 315.1,259.3 315.7,257.9 316.3,257.5 316.9,258.7 317.5,257.5 318.1,257.9 318.7,257.9 319.3,258.4 319.9,259.3 320.5,257.9 321.1,258.6 321.7,258.8 322.3,257.8 322.9,257.6 323.5,258.3 324.1,259.2 324.7,258.9 325.3,258.5 325.9,259.6 326.5,259.4 327.1,259.1 327.7,258.8 328.3,259.9 328.9,259.3 329.5,258.8 330.1,259.0 330.7,257.2 331.3,258.5 331.9,257.9 332.5,257.2 333.1,254.9 333.7,253.3 334.3,251.4 334.9,250.5 335.5,251.1 336.1,253.6 336.7,253.6 337.3,255.1 337.9,256.7 338.5,257.2 339.1,257.8 339.7,256.9 340.3,258.5 340.9,258.3 341.5,258.9 342.1,259.7 342.7,258.0 343.3,258.7 343.9,257.6 344.5,259.4 345.1,259.5 345.7,260.5 346.3,258.0 346.9,258.4 347.5,258.0 348.1,257.8 348.7,259.3 349.3,258.0 349.9,258.9 350.5,258.6 351.1,259.2 351.7,259.4 352.3,259.8 352.9,259.7 353.5,257.9 354.1,259.4 354.7,259.0 355.3,259.1 355.9,259.0 356.5,258.6 357.1,258.2 357.7,258.3 358.3,258.6 358.9,260.1 359.5,258.7 360.1,258.9 360.7,258.0 361.3,257.9 361.9,258.3 362.5,258.7" fill="none" stroke="#2e8b22" stroke-width="2.5" stroke-linejoin="round"/>
<polyline points="41.5,321.3 42.1,321.4 42.7,323.1 43.3,321.7 43.9,321.3 44.5,323.1 45.1,322.9 45.7,321.7 46.3,321.7 46.9,322.7 47.5,322.6 48.1,322.1 48.7,322.6 49.3,321.4 49.9,321.3 50.5,321.8 51.1,321.8 51.7,322.8 52.3,321.2 52.9,322.5 53.5,320.7 54.1,322.0 54.7,321.8 55.3,323.0 55.9,322.9 56.5,321.8 57.1,321.2 57.7,322.7 58.3,322.9 58.9,320.4 59.5,322.2 60.1,323.0 60.7,323.1 61.3,322.0 61.9,322.2 62.5,321.5 63.1,323.0 63.7,321.5 64.3,321.8 64.9,322.7 65.5,322.4 66.1,322.6 66.7,321.1 67.3,321.6 67.9,320.7 68.5,321.9 69.1,322.0 69.7,321.8 70.3,322.2 70.9,322.2 71.5,323.1 72.1,323.8 72.7,322.0 73.3,323.5 73.9,323.1 74.5,322.6 75.1,323.1 75.7,323.3 76.3,322.9 76.9,321.9 77.5,322.1 78.1,321.9 78.7,321.9 79.3,323.4 79.9,321.4 80.5,321.7 81.1,322.6 81.7,321.3 82.3,320.8 82.9,320.6 83.5,320.6 84.1,320.5 84.7,319.0 85.3,320.4 85.9,321.4 86.5,321.6 87.1,323.2 87.7,323.2 88.3,323.8 88.9,322.3 89.5,324.4 90.1,323.1 90.7,324.0 91.3,323.3 91.9,324.0 92.5,322.6 93.1,323.1 93.7,321.7 94.3,322.5 94.9,322.8 95.5,321.6 96.1,321.4 96.7,321.6 97.3,323.6 97.9,323.2 98.5,323.0 99.1,322.9 99.7,321.9 100.3,322.5 100.9,322.5 101.5,321.0 102.1,323.2 102.7,321.3 103.3,321.4 103.9,321.6 104.5,321.8 105.1,322.7 105.7,321.3 106.3,323.0 106.9,320.9 107.5,321.6 108.1,321.0 108.7,319.6 109.3,317.2 109.9,311.0 110.5,303.3 111.1,297.1 111.7,297.1 112.3,300.7 112.9,308.4 113.5,314.7 114.1,319.2 114.7,321.0 115.3,322.1 115.9,321.0 116.5,321.5 117.1,321.3 117.7,321.6 118.3,323.0 118.9,320.9 119.5,322.6 120.1,322.5 120.7,322.9 121.3,321.7 121.9,322.5 122.5,323.3 123.1,321.7 123.7,321.2 124.3,321.9 124.9,321.5 125.5,322.5 126.1,323.0 126.7,321.8 127.3,323.0 127.9,323.5 128.5,324.0 129.1,323.8 129.7,322.4 130.3,322.0 130.9,321.9 131.5,322.0 132.1,322.2 132.7,323.4 133.3,322.7 133.9,322.6 134.5,323.1 135.1,321.3 135.7,323.4 136.3,321.3 136.9,323.7 137.5,323.1 138.1,323.7 138.7,323.9 139.3,322.3 139.9,324.4 140.5,322.5 141.1,324.1 141.7,324.1 142.3,323.8 142.9,323.8 143.5,321.7 144.1,322.7 144.7,322.7 145.3,323.3 145.9,323.3 146.5,322.3 147.1,322.9 147.7,321.8 148.3,323.1 148.9,322.3 149.5,323.0 150.1,322.3 150.7,322.1 151.3,321.7 151.9,323.5 152.5,323.6 153.1,322.7 153.7,323.1 154.3,322.1 154.9,322.6 155.5,322.4 156.1,322.6 156.7,321.9 157.3,324.0 157.9,323.2 158.5,323.4 159.1,322.3 159.7,322.2 160.3,323.5 160.9,323.4 161.5,323.8 162.1,322.7 162.7,322.2 163.3,322.5 163.9,322.5 164.5,323.3 165.1,321.9 165.7,322.3 166.3,321.6 166.9,323.9 167.5,321.4 168.1,322.3 168.7,321.9 169.3,322.6 169.9,321.1 170.5,319.2 171.1,320.6 171.7,318.1 172.3,317.1 172.9,318.0 173.5,317.5 174.1,317.1 174.7,318.5 175.3,320.5 175.9,320.8 176.5,320.6 177.1,323.0 177.7,321.6 178.3,322.2 178.9,323.4 179.5,323.4 180.1,322.1 180.7,319.9 181.3,323.0 181.9,322.0 182.5,322.3 183.1,322.2 183.7,323.8 184.3,322.0 184.9,323.0 185.5,321.6 186.1,322.5 186.7,321.8 187.3,321.2 187.9,321.7 188.5,322.8 189.1,322.1 189.7,322.7 190.3,321.9 190.9,322.2 191.5,323.0 192.1,323.1 192.7,323.9 193.3,322.9 193.9,324.2 194.5,324.3 195.1,323.1 195.7,321.3 196.3,322.8 196.9,323.7 197.5,322.1 198.1,322.8 198.7,323.3 199.3,324.5 199.9,324.8 200.5,324.6 201.1,323.3 201.7,323.5 202.3,323.1 202.9,324.7 203.5,323.4 204.1,324.1 204.7,323.5 205.3,325.1 205.9,324.5 206.5,323.0 207.1,323.8 207.7,323.7 208.3,322.9 208.9,322.1 209.5,322.1 210.1,322.0 210.7,321.5 211.3,322.7 211.9,321.8 212.5,322.3 213.1,322.3 213.7,322.8 214.3,322.6 214.9,321.0 215.5,321.9 216.1,321.8 216.7,322.4 217.3,322.1 217.9,321.5 218.5,322.5 219.1,322.8 219.7,323.0 220.3,323.1 220.9,321.4 221.5,320.8 222.1,321.9 222.7,319.5 223.3,319.1 223.9,317.2 224.5,315.7 225.1,312.0 225.7,305.6 226.3,298.6 226.9,287.9 227.5,272.3 228.1,259.7 228.7,246.8 229.3,238.4 229.9,237.6 230.5,248.2 231.1,260.0 231.7,275.4 232.3,288.5 232.9,299.0 233.5,308.2 234.1,313.2 234.7,317.8 235.3,320.4 235.9,320.4 236.5,321.5 237.1,321.8 237.7,322.9 238.3,322.9 238.9,322.8 239.5,323.6 240.1,322.0 240.7,323.3 241.3,323.5 241.9,323.7 242.5,322.5 243.1,323.8 243.7,323.4 244.3,323.9 244.9,324.1 245.5,322.7 246.1,322.0 246.7,323.0 247.3,322.4 247.9,322.6 248.5,324.4 249.1,323.1 249.7,324.1 250.3,323.0 250.9,323.5 251.5,321.1 252.1,324.7 252.7,323.7 253.3,322.9 253.9,322.5 254.5,323.1 255.1,322.4 255.7,324.4 256.3,323.8 256.9,323.8 257.5,323.2 258.1,324.2 258.7,324.5 259.3,322.8 259.9,324.6 260.5,324.1 261.1,325.0 261.7,324.1 262.3,323.8 262.9,323.4 263.5,322.3 264.1,322.6 264.7,321.6 265.3,323.0 265.9,323.4 266.5,324.0 267.1,323.5 267.7,323.7 268.3,323.9 268.9,324.0 269.5,323.6 270.1,322.3 270.7,323.1 271.3,323.1 271.9,324.3 272.5,323.5 273.1,323.9 273.7,323.0 274.3,323.1 274.9,323.0 275.5,325.0 276.1,323.1 276.7,323.2 277.3,323.2 277.9,323.4 278.5,323.3 279.1,324.6 279.7,322.7 280.3,324.3 280.9,322.6 281.5,322.6 282.1,323.3 282.7,322.4 283.3,322.8 283.9,322.3 284.5,324.2 285.1,324.9 285.7,324.4 286.3,325.1 286.9,325.0 287.5,324.0 288.1,323.3 288.7,324.8 289.3,324.5 289.9,324.4 290.5,323.3 291.1,324.2 291.7,322.8 292.3,324.0 292.9,324.4 293.5,323.1 294.1,324.7 294.7,324.3 295.3,322.8 295.9,323.7 296.5,323.7 297.1,325.2 297.7,324.1 298.3,323.0 298.9,324.4 299.5,323.9 300.1,323.9 300.7,323.1 301.3,325.0 301.9,325.1 302.5,325.1 303.1,324.8 303.7,324.6 304.3,325.7 304.9,325.1 305.5,324.4 306.1,324.8 306.7,323.1 307.3,321.7 307.9,321.3 308.5,319.7 309.1,319.9 309.7,321.2 310.3,322.3 310.9,322.4 311.5,324.3 312.1,324.3 312.7,325.6 313.3,324.7 313.9,323.9 314.5,323.9 315.1,325.8 315.7,325.4 316.3,325.3 316.9,325.5 317.5,325.9 318.1,324.9 318.7,322.8 319.3,325.5 319.9,325.2 320.5,323.4 321.1,323.2 321.7,324.5 322.3,323.6 322.9,323.5 323.5,324.2 324.1,322.9 324.7,324.0 325.3,324.0 325.9,322.7 326.5,323.6 327.1,323.2 327.7,324.1 328.3,324.1 328.9,323.0 329.5,323.5 330.1,323.6 330.7,324.4 331.3,325.1 331.9,324.4 332.5,324.3 333.1,322.3 333.7,322.9 334.3,321.3 334.9,317.9 335.5,315.5 336.1,312.3 336.7,313.3 337.3,314.2 337.9,316.7 338.5,321.0 339.1,322.7 339.7,322.0 340.3,323.4 340.9,324.3 341.5,322.9 342.1,322.8 342.7,324.1 343.3,324.2 343.9,324.8 344.5,323.9 345.1,325.3 345.7,324.9 346.3,324.1 346.9,324.3 347.5,325.4 348.1,323.6 348.7,324.8 349.3,324.1 349.9,324.1 350.5,323.5 351.1,325.7 351.7,325.1 352.3,324.7 352.9,324.8 353.5,324.7 354.1,323.9 354.7,324.5 355.3,324.1 355.9,325.5 356.5,325.3 357.1,326.0 357.7,325.7 358.3,323.7 358.9,324.2 359.5,325.1 360.1,324.0 360.7,323.5 361.3,324.4 361.9,326.2 362.5,324.3" fill="none" stroke="#8e8e8e" stroke-width="2.5" stroke-linejoin="round"/>
<line x1="111.5" y1="62.0" x2="111.5" y2="328.3" stroke="#000" stroke-width="1.5" stroke-dasharray="3,3" stroke-linecap="butt"/>
<line x1="229.5" y1="39.0" x2="229.5" y2="328.3" stroke="#000" stroke-width="1.5" stroke-dasharray="3,3" stroke-linecap="butt"/>
<line x1="309.0" y1="64.0" x2="309.0" y2="328.3" stroke="#000" stroke-width="1.5" stroke-dasharray="3,3" stroke-linecap="butt"/>
<line x1="336.5" y1="64.0" x2="336.5" y2="328.3" stroke="#000" stroke-width="1.5" stroke-dasharray="3,3" stroke-linecap="butt"/>
<line x1="221.5" y1="40.0" x2="221.5" y2="70.0" stroke="#000" stroke-width="1.5" stroke-dasharray="3,3" stroke-linecap="butt"/>
<line x1="225.0" y1="86.0" x2="225.0" y2="135.0" stroke="#000" stroke-width="1.5" stroke-dasharray="3,3" stroke-linecap="butt"/>
<line x1="216.6" y1="180.0" x2="216.6" y2="193.0" stroke="#000" stroke-width="1.5" stroke-dasharray="3,3" stroke-linecap="butt"/>
<line x1="223.4" y1="195.0" x2="223.4" y2="258.0" stroke="#000" stroke-width="1.5" stroke-dasharray="3,3" stroke-linecap="butt"/>
<line x1="221.3" y1="56.8" x2="242.7" y2="56.8" stroke="#000" stroke-width="1.6" stroke-linecap="butt"/>
<path d="M230.3,56.8 L235.8,53.8 L235.8,59.8Z" fill="#000"/>
<text x="244.4" y="59.2" font-family="Liberation Serif" font-weight="bold" font-size="13.5" text-anchor="start" fill="#000">0.030 Å</text>
<line x1="225.0" y1="97.3" x2="242.7" y2="97.3" stroke="#000" stroke-width="1.6" stroke-linecap="butt"/>
<path d="M230.3,97.3 L235.8,94.3 L235.8,100.3Z" fill="#000"/>
<text x="244.4" y="103.0" font-family="Liberation Serif" font-weight="bold" font-size="13.5" text-anchor="start" fill="#000">0.017 Å</text>
<line x1="216.4" y1="183.0" x2="242.7" y2="183.0" stroke="#000" stroke-width="1.6" stroke-linecap="butt"/>
<path d="M230.3,183.0 L235.8,180.0 L235.8,186.0Z" fill="#000"/>
<text x="244.4" y="184.4" font-family="Liberation Serif" font-weight="bold" font-size="13.5" text-anchor="start" fill="#000">0.047 Å</text>
<line x1="224.2" y1="204.4" x2="242.7" y2="204.4" stroke="#000" stroke-width="1.6" stroke-linecap="butt"/>
<path d="M230.3,204.4 L235.8,201.4 L235.8,207.4Z" fill="#000"/>
<text x="244.4" y="210.5" font-family="Liberation Serif" font-weight="bold" font-size="13.5" text-anchor="start" fill="#000">0.023 Å</text>
<text x="44.8" y="83.0" font-family="Liberation Serif" font-weight="bold" font-size="13.9" text-anchor="start" fill="#000">500 <tspan font-weight="normal">°C</tspan> 7.5E15</text>
<text x="44.8" y="150.8" font-family="Liberation Serif" font-weight="bold" font-size="13.9" text-anchor="start" fill="#000">500 <tspan font-weight="normal">°C</tspan> 7.5E14</text>
<text x="46.0" y="205.3" font-family="Liberation Serif" font-weight="bold" font-size="13.9" text-anchor="start" fill="#000">RT 7.5E15</text>
<text x="44.4" y="270.8" font-family="Liberation Serif" font-weight="bold" font-size="13.9" text-anchor="start" fill="#000">RT 7.5E14</text>
<text x="45.0" y="311.6" font-family="Liberation Serif" font-weight="bold" font-size="16.5" text-anchor="start" fill="#000">virgin</text>
<path d="M114.00,47.20 L112.96,49.97 L110.01,50.10 L112.32,51.95 L111.53,54.80 L114.00,53.16 L116.47,54.80 L115.68,51.95 L117.99,50.10 L115.04,49.97Z" fill="#000" stroke="none" stroke-width="1" stroke-linejoin="miter"/>
<text x="117.4" y="46.0" font-family="Liberation Serif" font-weight="bold" font-size="13.7" text-anchor="start" fill="#000" transform="rotate(-90 117.4 46.0)">(100)</text>
<path d="M238.20,41.20 L237.16,43.97 L234.21,44.10 L236.52,45.95 L235.73,48.80 L238.20,47.16 L240.67,48.80 L239.88,45.95 L242.19,44.10 L239.24,43.97Z" fill="#000" stroke="none" stroke-width="1" stroke-linejoin="miter"/>
<text x="241.6" y="40.0" font-family="Liberation Serif" font-weight="bold" font-size="13.7" text-anchor="start" fill="#000" transform="rotate(-90 241.6 40.0)">(103)</text>
<path d="M320.00,102.20 L318.96,104.97 L316.01,105.10 L318.32,106.95 L317.53,109.80 L320.00,108.16 L322.47,109.80 L321.68,106.95 L323.99,105.10 L321.04,104.97Z" fill="#000" stroke="none" stroke-width="1" stroke-linejoin="miter"/>
<text x="323.4" y="101.0" font-family="Liberation Serif" font-weight="bold" font-size="13.7" text-anchor="start" fill="#000" transform="rotate(-90 323.4 101.0)">(104)</text>
<path d="M348.50,103.20 L347.46,105.97 L344.51,106.10 L346.82,107.95 L346.03,110.80 L348.50,109.16 L350.97,110.80 L350.18,107.95 L352.49,106.10 L349.54,105.97Z" fill="#000" stroke="none" stroke-width="1" stroke-linejoin="miter"/>
<text x="351.9" y="102.0" font-family="Liberation Serif" font-weight="bold" font-size="13.7" text-anchor="start" fill="#000" transform="rotate(-90 351.9 102.0)">(006)</text>
<path d="M291.50,16.90 L290.12,20.60 L286.17,20.77 L289.26,23.23 L288.21,27.03 L291.50,24.85 L294.79,27.03 L293.74,23.23 L296.83,20.77 L292.88,20.60Z" fill="#000" stroke="none" stroke-width="1" stroke-linejoin="miter"/>
<text x="295.6" y="27.1" font-family="Liberation Serif" font-weight="bold" font-size="17.8" text-anchor="start" fill="#000">-Zr<tspan font-size="12">2</tspan>SeC</text>
<rect x="40.5" y="8.0" width="323.5" height="320.3" fill="none" stroke="#000" stroke-width="2.2"/>
<line x1="115.0" y1="328.3" x2="115.0" y2="333.8" stroke="#000" stroke-width="2.0" stroke-linecap="butt"/>
<line x1="197.9" y1="328.3" x2="197.9" y2="333.8" stroke="#000" stroke-width="2.0" stroke-linecap="butt"/>
<line x1="280.8" y1="328.3" x2="280.8" y2="333.8" stroke="#000" stroke-width="2.0" stroke-linecap="butt"/>
<line x1="363.7" y1="328.3" x2="363.7" y2="333.8" stroke="#000" stroke-width="2.0" stroke-linecap="butt"/>
<line x1="73.6" y1="328.3" x2="73.6" y2="331.3" stroke="#000" stroke-width="2.0" stroke-linecap="butt"/>
<line x1="156.4" y1="328.3" x2="156.4" y2="331.3" stroke="#000" stroke-width="2.0" stroke-linecap="butt"/>
<line x1="239.3" y1="328.3" x2="239.3" y2="331.3" stroke="#000" stroke-width="2.0" stroke-linecap="butt"/>
<line x1="322.2" y1="328.3" x2="322.2" y2="331.3" stroke="#000" stroke-width="2.0" stroke-linecap="butt"/>
<text x="115.0" y="352.2" font-family="Liberation Serif" font-weight="bold" font-size="16" text-anchor="middle" fill="#000">30</text>
<text x="197.9" y="352.2" font-family="Liberation Serif" font-weight="bold" font-size="16" text-anchor="middle" fill="#000">35</text>
<text x="280.8" y="352.2" font-family="Liberation Serif" font-weight="bold" font-size="16" text-anchor="middle" fill="#000">40</text>
<text x="363.7" y="352.2" font-family="Liberation Serif" font-weight="bold" font-size="16" text-anchor="middle" fill="#000">45</text>
<text x="202.0" y="381.2" font-family="Liberation Serif" font-weight="bold" font-size="21" text-anchor="middle" fill="#000">2<tspan font-weight="normal">θ</tspan> (deg.)</text>
<text x="22.9" y="166.6" font-family="Liberation Serif" font-weight="bold" font-size="21" text-anchor="middle" fill="#000" transform="rotate(-90 22.9 166.6)">Intensity (a.u.)</text>
<text x="0.6" y="33.8" font-family="Liberation Serif" font-weight="bold" font-size="29" text-anchor="start" fill="#000">(a)</text>
<polyline points="41.5,476.2 42.1,475.1 42.7,476.1 43.3,474.7 43.9,475.0 44.5,475.1 45.1,476.7 45.7,475.2 46.3,475.3 46.9,475.3 47.5,476.8 48.1,475.5 48.7,474.6 49.3,476.2 49.9,476.9 50.5,476.4 51.1,475.8 51.7,476.7 52.3,475.4 52.9,476.8 53.5,474.4 54.1,475.9 54.7,476.6 55.3,476.2 55.9,475.1 56.5,475.9 57.1,475.1 57.7,477.0 58.3,476.8 58.9,476.5 59.5,477.2 60.1,476.5 60.7,476.2 61.3,477.7 61.9,476.1 62.5,476.6 63.1,475.9 63.7,477.2 64.3,477.4 64.9,475.4 65.5,477.3 66.1,476.5 66.7,476.3 67.3,475.5 67.9,475.6 68.5,477.5 69.1,476.1 69.7,475.7 70.3,474.9 70.9,476.4 71.5,475.1 72.1,473.8 72.7,472.7 73.3,470.1 73.9,469.8 74.5,466.9 75.1,466.9 75.7,470.1 76.3,471.4 76.9,473.4 77.5,476.0 78.1,475.6 78.7,475.8 79.3,476.4 79.9,477.6 80.5,477.4 81.1,474.9 81.7,476.0 82.3,476.1 82.9,475.6 83.5,474.6 84.1,475.9 84.7,475.5 85.3,475.3 85.9,474.4 86.5,475.0 87.1,473.7 87.7,472.5 88.3,469.0 88.9,468.1 89.5,468.3 90.1,469.3 90.7,470.6 91.3,474.3 91.9,475.7 92.5,474.8 93.1,475.2 93.7,475.3 94.3,476.2 94.9,475.4 95.5,476.3 96.1,476.0 96.7,475.9 97.3,475.7 97.9,476.2 98.5,476.8 99.1,475.2 99.7,475.6 100.3,476.1 100.9,477.4 101.5,475.5 102.1,475.7 102.7,477.6 103.3,476.4 103.9,477.1 104.5,475.3 105.1,476.7 105.7,476.3 106.3,476.1 106.9,475.8 107.5,477.2 108.1,474.3 108.7,477.0 109.3,477.3 109.9,476.7 110.5,475.4 111.1,475.1 111.7,476.5 112.3,476.5 112.9,477.5 113.5,476.2 114.1,477.2 114.7,477.1 115.3,477.2 115.9,477.7 116.5,476.6 117.1,478.1 117.7,477.6 118.3,478.4 118.9,476.7 119.5,477.6 120.1,475.4 120.7,475.5 121.3,475.4 121.9,477.3 122.5,475.5 123.1,476.9 123.7,475.8 124.3,476.3 124.9,474.5 125.5,477.1 126.1,477.7 126.7,475.2 127.3,476.5 127.9,475.2 128.5,475.7 129.1,475.6 129.7,473.2 130.3,471.8 130.9,468.2 131.5,465.9 132.1,463.0 132.7,461.4 133.3,465.1 133.9,467.5 134.5,470.9 135.1,473.4 135.7,474.3 136.3,474.1 136.9,474.7 137.5,474.8 138.1,476.1 138.7,476.4 139.3,476.5 139.9,477.3 140.5,476.3 141.1,476.8 141.7,476.5 142.3,476.1 142.9,476.1 143.5,475.2 144.1,476.4 144.7,475.1 145.3,475.6 145.9,476.3 146.5,475.1 147.1,474.9 147.7,476.1 148.3,475.4 148.9,476.0 149.5,476.1 150.1,476.6 150.7,475.9 151.3,477.6 151.9,476.4 152.5,476.6 153.1,476.0 153.7,477.1 154.3,475.8 154.9,476.4 155.5,477.3 156.1,477.0 156.7,476.5 157.3,476.3 157.9,477.5 158.5,475.3 159.1,476.4 159.7,476.9 160.3,476.9 160.9,476.9 161.5,476.8 162.1,478.0 162.7,477.9 163.3,478.4 163.9,477.4 164.5,477.3 165.1,477.4 165.7,478.2 166.3,478.8 166.9,479.1 167.5,478.0 168.1,477.7 168.7,476.7 169.3,476.0 169.9,477.7 170.5,476.2 171.1,476.8 171.7,476.6 172.3,476.2 172.9,478.0 173.5,476.6 174.1,476.4 174.7,477.2 175.3,477.2 175.9,476.8 176.5,474.6 177.1,476.9 177.7,477.8 178.3,477.3 178.9,476.7 179.5,476.6 180.1,477.7 180.7,476.4 181.3,477.7 181.9,477.5 182.5,476.9 183.1,476.6 183.7,477.6 184.3,476.8 184.9,476.7 185.5,476.4 186.1,476.8 186.7,477.2 187.3,476.3 187.9,476.0 188.5,475.8 189.1,476.0 189.7,476.0 190.3,475.9 190.9,475.4 191.5,474.8 192.1,475.0 192.7,475.7 193.3,475.6 193.9,475.0 194.5,473.5 195.1,470.8 195.7,466.9 196.3,458.5 196.9,449.0 197.5,437.0 198.1,422.2 198.7,413.4 199.3,414.2 199.9,424.5 200.5,436.6 201.1,448.8 201.7,458.1 202.3,465.4 202.9,471.9 203.5,473.6 204.1,474.2 204.7,475.3 205.3,476.1 205.9,475.0 206.5,475.6 207.1,476.3 207.7,475.4 208.3,476.7 208.9,476.2 209.5,477.1 210.1,476.2 210.7,476.9 211.3,477.1 211.9,477.2 212.5,476.4 213.1,477.1 213.7,477.0 214.3,477.1 214.9,477.7 215.5,477.5 216.1,476.9 216.7,478.0 217.3,477.4 217.9,477.8 218.5,476.9 219.1,477.1 219.7,478.3 220.3,478.5 220.9,476.9 221.5,476.9 222.1,476.8 222.7,478.8 223.3,478.4 223.9,476.9 224.5,476.9 225.1,477.3 225.7,479.0 226.3,478.7 226.9,478.1 227.5,478.9 228.1,477.0 228.7,476.6 229.3,477.3 229.9,477.5 230.5,476.2 231.1,478.2 231.7,478.0 232.3,477.0 232.9,477.2 233.5,477.0 234.1,477.5 234.7,477.7 235.3,477.8 235.9,476.7 236.5,478.0 237.1,476.0 237.7,477.6 238.3,479.1 238.9,478.7 239.5,477.8 240.1,477.6 240.7,477.3 241.3,476.8 241.9,478.0 242.5,477.5 243.1,478.2 243.7,476.1 244.3,476.7 244.9,476.8 245.5,477.4 246.1,477.1 246.7,477.4 247.3,478.3 247.9,477.5 248.5,477.6 249.1,478.3 249.7,477.7 250.3,477.9 250.9,477.1 251.5,477.9 252.1,477.6 252.7,478.3 253.3,477.1 253.9,477.5 254.5,476.6 255.1,478.3 255.7,478.3 256.3,477.9 256.9,477.6 257.5,478.8 258.1,477.8 258.7,476.8 259.3,478.6 259.9,479.1 260.5,477.3 261.1,479.0 261.7,478.1 262.3,477.2 262.9,477.5 263.5,477.3 264.1,477.0 264.7,477.0 265.3,478.2 265.9,476.5 266.5,477.8 267.1,478.6 267.7,478.7 268.3,478.3 268.9,477.7 269.5,479.2 270.1,477.0 270.7,478.1 271.3,477.6 271.9,477.6 272.5,478.4 273.1,476.4 273.7,477.3 274.3,476.7 274.9,477.4 275.5,478.5 276.1,477.0 276.7,478.2 277.3,477.7 277.9,475.1 278.5,475.0 279.1,473.1 279.7,469.9 280.3,468.2 280.9,464.6 281.5,465.4 282.1,466.4 282.7,468.7 283.3,471.1 283.9,473.3 284.5,475.0 285.1,476.1 285.7,477.7 286.3,478.1 286.9,477.1 287.5,478.4 288.1,476.8 288.7,474.7 289.3,476.6 289.9,478.1 290.5,478.5 291.1,478.1 291.7,477.1 292.3,479.0 292.9,475.7 293.5,478.1 294.1,478.3 294.7,479.0 295.3,478.8 295.9,478.2 296.5,476.9 297.1,478.1 297.7,477.9 298.3,477.9 298.9,478.6 299.5,478.1 300.1,478.4 300.7,478.9 301.3,477.3 301.9,477.3 302.5,477.9 303.1,475.7 303.7,479.2 304.3,478.4 304.9,477.1 305.5,477.6 306.1,476.7 306.7,477.1 307.3,478.4 307.9,479.2 308.5,479.4 309.1,478.9 309.7,478.8 310.3,477.9 310.9,478.4 311.5,477.9 312.1,478.0 312.7,477.4 313.3,478.5 313.9,479.3 314.5,479.7 315.1,478.2 315.7,478.4 316.3,477.8 316.9,477.4 317.5,477.7 318.1,477.0 318.7,478.9 319.3,477.3 319.9,479.4 320.5,479.5 321.1,478.7 321.7,478.8 322.3,479.4 322.9,477.7 323.5,477.8 324.1,478.9 324.7,477.6 325.3,478.5 325.9,476.9 326.5,478.4 327.1,478.0 327.7,479.1 328.3,479.0 328.9,479.0 329.5,478.0 330.1,478.8 330.7,476.7 331.3,477.2 331.9,478.4 332.5,477.9 333.1,476.1 333.7,476.3 334.3,477.7 334.9,476.5 335.5,474.8 336.1,475.5 336.7,475.4 337.3,475.5 337.9,477.8 338.5,476.0 339.1,478.1 339.7,478.3 340.3,477.1 340.9,478.1 341.5,478.2 342.1,479.1 342.7,479.6 343.3,479.5 343.9,478.1 344.5,477.9 345.1,479.7 345.7,480.0 346.3,477.6 346.9,478.1 347.5,478.0 348.1,478.7 348.7,478.0 349.3,478.7 349.9,478.1 350.5,478.9 351.1,476.3 351.7,478.7 352.3,477.9 352.9,478.7 353.5,479.6 354.1,477.9 354.7,478.6 355.3,478.7 355.9,479.8 356.5,478.1 357.1,478.4 357.7,478.5 358.3,479.4 358.9,478.5 359.5,478.5 360.1,477.3 360.7,478.1 361.3,478.7 361.9,479.1 362.5,477.7" fill="none" stroke="#e98b32" stroke-width="2.5" stroke-linejoin="round"/>
<polyline points="41.5,530.5 42.1,532.2 42.7,533.8 43.3,532.9 43.9,534.0 44.5,532.6 45.1,533.2 45.7,534.0 46.3,534.9 46.9,534.1 47.5,533.6 48.1,534.6 48.7,534.6 49.3,531.8 49.9,533.6 50.5,534.5 51.1,533.6 51.7,533.5 52.3,533.5 52.9,533.5 53.5,534.6 54.1,533.3 54.7,533.0 55.3,533.1 55.9,532.1 56.5,533.7 57.1,532.5 57.7,534.7 58.3,533.9 58.9,534.9 59.5,534.2 60.1,534.1 60.7,533.2 61.3,533.1 61.9,533.4 62.5,534.2 63.1,532.2 63.7,532.5 64.3,532.8 64.9,533.3 65.5,532.1 66.1,532.3 66.7,533.1 67.3,533.4 67.9,532.7 68.5,532.5 69.1,532.3 69.7,532.3 70.3,532.1 70.9,534.0 71.5,532.2 72.1,532.4 72.7,531.2 73.3,531.0 73.9,529.4 74.5,527.1 75.1,528.5 75.7,529.1 76.3,532.1 76.9,531.9 77.5,532.5 78.1,534.2 78.7,534.1 79.3,532.0 79.9,534.2 80.5,532.1 81.1,534.1 81.7,533.4 82.3,534.0 82.9,534.1 83.5,532.9 84.1,532.0 84.7,531.7 85.3,532.3 85.9,531.9 86.5,532.2 87.1,531.6 87.7,528.5 88.3,527.6 88.9,526.6 89.5,527.9 90.1,527.7 90.7,528.3 91.3,531.5 91.9,531.9 92.5,533.1 93.1,531.5 93.7,532.5 94.3,532.5 94.9,531.8 95.5,532.6 96.1,534.3 96.7,533.4 97.3,534.2 97.9,533.0 98.5,533.1 99.1,534.0 99.7,533.7 100.3,533.5 100.9,533.2 101.5,534.0 102.1,533.1 102.7,533.7 103.3,532.2 103.9,531.6 104.5,532.8 105.1,532.8 105.7,533.4 106.3,533.2 106.9,533.1 107.5,532.7 108.1,532.6 108.7,534.1 109.3,534.0 109.9,534.2 110.5,533.7 111.1,533.8 111.7,535.0 112.3,534.7 112.9,534.9 113.5,533.5 114.1,534.7 114.7,533.9 115.3,532.9 115.9,533.8 116.5,533.3 117.1,532.2 117.7,534.1 118.3,533.7 118.9,532.3 119.5,532.4 120.1,533.8 120.7,532.1 121.3,533.7 121.9,532.5 122.5,534.3 123.1,532.9 123.7,532.7 124.3,533.3 124.9,533.3 125.5,533.2 126.1,532.8 126.7,533.1 127.3,532.3 127.9,534.1 128.5,532.0 129.1,533.8 129.7,531.7 130.3,530.1 130.9,528.9 131.5,526.9 132.1,524.8 132.7,525.1 133.3,525.8 133.9,528.7 134.5,529.3 135.1,532.0 135.7,531.4 136.3,532.9 136.9,534.1 137.5,533.2 138.1,532.7 138.7,532.6 139.3,534.3 139.9,533.1 140.5,533.9 141.1,532.2 141.7,534.4 142.3,534.5 142.9,535.1 143.5,533.5 144.1,534.4 144.7,534.4 145.3,533.6 145.9,534.8 146.5,534.3 147.1,534.5 147.7,533.9 148.3,534.9 148.9,534.8 149.5,533.1 150.1,534.8 150.7,534.3 151.3,534.7 151.9,532.8 152.5,533.0 153.1,532.4 153.7,534.7 154.3,532.9 154.9,532.5 155.5,533.4 156.1,534.8 156.7,535.2 157.3,533.9 157.9,533.4 158.5,533.2 159.1,534.3 159.7,533.6 160.3,533.3 160.9,534.0 161.5,534.8 162.1,533.4 162.7,533.9 163.3,534.2 163.9,532.0 164.5,533.2 165.1,534.3 165.7,532.7 166.3,534.0 166.9,534.6 167.5,535.2 168.1,535.0 168.7,533.7 169.3,534.7 169.9,534.8 170.5,535.4 171.1,534.4 171.7,534.7 172.3,533.9 172.9,535.3 173.5,534.3 174.1,533.8 174.7,534.4 175.3,534.2 175.9,535.1 176.5,533.8 177.1,533.8 177.7,533.3 178.3,534.8 178.9,534.1 179.5,533.5 180.1,534.6 180.7,534.1 181.3,535.1 181.9,535.1 182.5,534.1 183.1,533.2 183.7,533.6 184.3,534.3 184.9,533.7 185.5,533.6 186.1,533.1 186.7,535.0 187.3,534.5 187.9,535.5 188.5,534.4 189.1,532.8 189.7,534.0 190.3,534.6 190.9,533.4 191.5,532.7 192.1,532.0 192.7,533.0 193.3,533.3 193.9,532.7 194.5,530.2 195.1,531.5 195.7,527.8 196.3,525.2 196.9,519.0 197.5,510.3 198.1,500.2 198.7,488.2 199.3,482.0 199.9,485.5 200.5,493.0 201.1,503.4 201.7,513.5 202.3,520.5 202.9,525.5 203.5,527.9 204.1,531.6 204.7,532.2 205.3,532.0 205.9,532.0 206.5,531.4 207.1,532.4 207.7,532.3 208.3,533.9 208.9,534.2 209.5,534.1 210.1,534.0 210.7,535.4 211.3,534.6 211.9,534.0 212.5,533.9 213.1,534.9 213.7,533.9 214.3,535.5 214.9,534.4 215.5,534.8 216.1,534.0 216.7,534.1 217.3,533.9 217.9,533.5 218.5,534.7 219.1,533.5 219.7,532.9 220.3,535.3 220.9,535.6 221.5,533.8 222.1,534.2 222.7,533.9 223.3,533.8 223.9,533.5 224.5,534.2 225.1,534.5 225.7,534.4 226.3,534.1 226.9,533.7 227.5,533.8 228.1,534.4 228.7,533.2 229.3,532.4 229.9,534.8 230.5,535.4 231.1,535.3 231.7,534.6 232.3,535.8 232.9,534.0 233.5,535.8 234.1,534.9 234.7,534.1 235.3,534.5 235.9,533.7 236.5,535.1 237.1,534.8 237.7,535.1 238.3,535.5 238.9,536.0 239.5,535.7 240.1,534.6 240.7,534.8 241.3,535.1 241.9,535.1 242.5,534.9 243.1,534.9 243.7,536.2 244.3,535.7 244.9,534.3 245.5,535.7 246.1,534.4 246.7,533.3 247.3,535.3 247.9,534.6 248.5,534.7 249.1,535.6 249.7,534.8 250.3,535.4 250.9,534.7 251.5,534.3 252.1,535.8 252.7,534.7 253.3,535.5 253.9,535.8 254.5,533.6 255.1,533.7 255.7,535.0 256.3,535.0 256.9,534.6 257.5,534.8 258.1,533.6 258.7,533.7 259.3,534.0 259.9,535.1 260.5,535.7 261.1,535.1 261.7,534.7 262.3,533.8 262.9,534.5 263.5,533.9 264.1,533.4 264.7,535.7 265.3,534.6 265.9,534.9 266.5,534.1 267.1,535.2 267.7,533.7 268.3,535.0 268.9,535.3 269.5,534.0 270.1,536.2 270.7,534.0 271.3,534.1 271.9,535.6 272.5,536.0 273.1,534.7 273.7,534.6 274.3,534.8 274.9,533.8 275.5,533.0 276.1,533.8 276.7,533.2 277.3,534.6 277.9,534.7 278.5,534.0 279.1,533.2 279.7,530.7 280.3,529.7 280.9,527.6 281.5,527.5 282.1,528.5 282.7,530.0 283.3,532.7 283.9,533.6 284.5,533.4 285.1,533.0 285.7,533.9 286.3,533.9 286.9,534.0 287.5,534.9 288.1,534.9 288.7,534.7 289.3,536.5 289.9,534.1 290.5,536.7 291.1,534.6 291.7,536.3 292.3,535.6 292.9,534.4 293.5,535.3 294.1,535.1 294.7,534.1 295.3,534.4 295.9,534.2 296.5,536.0 297.1,535.0 297.7,533.8 298.3,535.4 298.9,536.0 299.5,534.7 300.1,534.4 300.7,535.4 301.3,535.8 301.9,536.0 302.5,536.5 303.1,535.3 303.7,535.6 304.3,536.1 304.9,534.6 305.5,534.7 306.1,535.3 306.7,534.2 307.3,534.9 307.9,535.2 308.5,534.9 309.1,535.7 309.7,534.0 310.3,534.9 310.9,535.0 311.5,535.4 312.1,535.7 312.7,535.4 313.3,536.2 313.9,536.0 314.5,534.3 315.1,534.6 315.7,536.8 316.3,535.6 316.9,535.0 317.5,535.7 318.1,535.2 318.7,535.5 319.3,535.7 319.9,536.6 320.5,535.9 321.1,534.6 321.7,534.9 322.3,534.8 322.9,534.6 323.5,535.7 324.1,535.3 324.7,535.0 325.3,536.0 325.9,535.4 326.5,537.2 327.1,536.2 327.7,536.1 328.3,535.9 328.9,533.5 329.5,535.3 330.1,534.9 330.7,533.9 331.3,536.0 331.9,536.1 332.5,535.9 333.1,534.8 333.7,535.9 334.3,534.0 334.9,533.3 335.5,534.0 336.1,534.0 336.7,533.5 337.3,534.9 337.9,534.2 338.5,534.5 339.1,535.4 339.7,535.9 340.3,536.1 340.9,534.9 341.5,534.8 342.1,535.6 342.7,535.5 343.3,536.0 343.9,532.7 344.5,534.9 345.1,534.8 345.7,535.0 346.3,535.3 346.9,535.0 347.5,534.5 348.1,535.4 348.7,536.1 349.3,535.6 349.9,536.5 350.5,537.0 351.1,535.2 351.7,535.7 352.3,536.1 352.9,535.3 353.5,535.5 354.1,535.6 354.7,536.1 355.3,536.1 355.9,535.6 356.5,536.4 357.1,535.8 357.7,534.6 358.3,536.4 358.9,535.7 359.5,535.5 360.1,534.4 360.7,534.7 361.3,536.3 361.9,535.0 362.5,534.7" fill="none" stroke="#c49b22" stroke-width="2.5" stroke-linejoin="round"/>
<polyline points="41.5,593.4 42.1,592.1 42.7,591.1 43.3,591.3 43.9,590.6 44.5,591.6 45.1,590.6 45.7,592.1 46.3,591.9 46.9,592.2 47.5,591.0 48.1,592.3 48.7,591.5 49.3,592.8 49.9,589.9 50.5,592.6 51.1,591.3 51.7,592.2 52.3,592.4 52.9,591.5 53.5,592.7 54.1,593.2 54.7,590.9 55.3,593.3 55.9,592.6 56.5,592.3 57.1,591.8 57.7,591.7 58.3,592.0 58.9,591.8 59.5,592.2 60.1,592.8 60.7,593.8 61.3,592.9 61.9,593.5 62.5,592.6 63.1,592.8 63.7,592.6 64.3,593.0 64.9,591.6 65.5,591.9 66.1,592.3 66.7,591.7 67.3,592.5 67.9,591.1 68.5,590.8 69.1,592.1 69.7,591.5 70.3,590.4 70.9,590.9 71.5,590.2 72.1,588.2 72.7,587.3 73.3,587.5 73.9,586.3 74.5,586.8 75.1,588.9 75.7,589.1 76.3,591.6 76.9,591.1 77.5,591.0 78.1,591.7 78.7,591.4 79.3,592.7 79.9,592.9 80.5,592.8 81.1,590.4 81.7,591.8 82.3,591.7 82.9,592.1 83.5,590.7 84.1,590.8 84.7,591.0 85.3,589.9 85.9,589.3 86.5,587.7 87.1,584.5 87.7,583.9 88.3,584.9 88.9,585.0 89.5,586.7 90.1,588.4 90.7,590.3 91.3,591.3 91.9,591.7 92.5,592.2 93.1,592.9 93.7,593.0 94.3,590.0 94.9,593.1 95.5,592.2 96.1,591.7 96.7,592.8 97.3,592.3 97.9,592.0 98.5,592.9 99.1,592.1 99.7,591.8 100.3,593.0 100.9,591.7 101.5,593.7 102.1,593.9 102.7,593.5 103.3,593.0 103.9,592.6 104.5,592.7 105.1,592.5 105.7,593.3 106.3,593.2 106.9,592.2 107.5,592.9 108.1,591.8 108.7,593.2 109.3,593.5 109.9,593.0 110.5,594.1 111.1,592.4 111.7,593.6 112.3,593.7 112.9,591.8 113.5,593.3 114.1,593.7 114.7,593.2 115.3,593.9 115.9,593.9 116.5,594.3 117.1,592.9 117.7,594.2 118.3,592.1 118.9,592.9 119.5,591.0 120.1,593.9 120.7,593.0 121.3,592.9 121.9,592.8 122.5,593.8 123.1,592.5 123.7,592.7 124.3,593.2 124.9,592.1 125.5,593.4 126.1,593.5 126.7,594.0 127.3,591.8 127.9,591.6 128.5,590.4 129.1,588.1 129.7,585.4 130.3,581.6 130.9,580.1 131.5,582.6 132.1,584.9 132.7,586.6 133.3,588.8 133.9,589.4 134.5,591.0 135.1,592.9 135.7,592.3 136.3,593.8 136.9,593.5 137.5,592.6 138.1,592.2 138.7,591.9 139.3,592.7 139.9,592.8 140.5,593.2 141.1,594.2 141.7,594.2 142.3,594.1 142.9,594.3 143.5,593.8 144.1,593.9 144.7,593.4 145.3,594.1 145.9,594.1 146.5,594.0 147.1,593.8 147.7,592.4 148.3,593.7 148.9,591.4 149.5,594.1 150.1,592.8 150.7,593.0 151.3,592.3 151.9,592.3 152.5,592.6 153.1,592.2 153.7,593.1 154.3,593.6 154.9,592.2 155.5,591.9 156.1,591.6 156.7,592.7 157.3,592.0 157.9,592.1 158.5,593.0 159.1,591.7 159.7,593.6 160.3,594.5 160.9,592.6 161.5,594.2 162.1,594.3 162.7,593.4 163.3,593.2 163.9,594.1 164.5,593.5 165.1,593.3 165.7,592.5 166.3,592.5 166.9,593.5 167.5,593.2 168.1,591.8 168.7,592.7 169.3,593.9 169.9,593.8 170.5,594.4 171.1,592.4 171.7,592.8 172.3,593.2 172.9,593.5 173.5,593.7 174.1,593.2 174.7,592.9 175.3,594.3 175.9,594.4 176.5,593.2 177.1,593.3 177.7,593.7 178.3,592.1 178.9,593.1 179.5,592.7 180.1,592.8 180.7,592.6 181.3,592.6 181.9,592.7 182.5,592.7 183.1,593.4 183.7,592.6 184.3,593.8 184.9,594.2 185.5,591.8 186.1,592.9 186.7,591.4 187.3,593.3 187.9,593.2 188.5,592.5 189.1,593.4 189.7,592.3 190.3,592.8 190.9,590.9 191.5,590.9 192.1,592.4 192.7,590.2 193.3,588.6 193.9,587.2 194.5,583.2 195.1,578.8 195.7,571.6 196.3,562.8 196.9,553.5 197.5,547.0 198.1,545.9 198.7,553.7 199.3,562.8 199.9,570.6 200.5,579.7 201.1,585.0 201.7,587.2 202.3,590.4 202.9,591.2 203.5,591.5 204.1,592.6 204.7,592.2 205.3,591.5 205.9,591.3 206.5,592.3 207.1,592.3 207.7,592.4 208.3,591.1 208.9,593.1 209.5,593.7 210.1,592.6 210.7,593.6 211.3,594.4 211.9,594.1 212.5,592.6 213.1,592.7 213.7,592.4 214.3,591.4 214.9,592.3 215.5,591.9 216.1,592.8 216.7,593.0 217.3,592.9 217.9,592.5 218.5,593.0 219.1,594.1 219.7,593.6 220.3,593.2 220.9,594.6 221.5,592.9 222.1,592.4 222.7,594.3 223.3,593.3 223.9,592.1 224.5,593.0 225.1,593.1 225.7,593.8 226.3,593.1 226.9,595.3 227.5,594.5 228.1,593.9 228.7,594.1 229.3,594.5 229.9,594.6 230.5,593.4 231.1,593.0 231.7,594.2 232.3,594.7 232.9,594.2 233.5,595.2 234.1,594.3 234.7,594.7 235.3,595.1 235.9,594.3 236.5,593.4 237.1,593.4 237.7,594.2 238.3,592.7 238.9,592.7 239.5,594.0 240.1,594.1 240.7,593.6 241.3,595.0 241.9,594.2 242.5,594.0 243.1,594.8 243.7,593.0 244.3,593.0 244.9,594.7 245.5,594.8 246.1,594.7 246.7,593.4 247.3,594.1 247.9,592.6 248.5,593.8 249.1,594.0 249.7,593.9 250.3,592.8 250.9,592.8 251.5,593.7 252.1,593.1 252.7,592.5 253.3,593.5 253.9,593.6 254.5,594.4 255.1,593.1 255.7,594.2 256.3,593.1 256.9,592.8 257.5,594.8 258.1,593.2 258.7,592.9 259.3,592.7 259.9,593.0 260.5,594.2 261.1,593.1 261.7,594.7 262.3,593.0 262.9,592.8 263.5,593.5 264.1,594.2 264.7,594.7 265.3,593.0 265.9,594.5 266.5,593.3 267.1,594.6 267.7,594.6 268.3,594.0 268.9,594.4 269.5,592.4 270.1,595.6 270.7,595.5 271.3,594.1 271.9,592.8 272.5,594.0 273.1,594.7 273.7,594.4 274.3,594.6 274.9,593.7 275.5,592.5 276.1,592.5 276.7,592.5 277.3,590.1 277.9,588.3 278.5,585.5 279.1,581.3 279.7,578.6 280.3,579.8 280.9,581.8 281.5,584.5 282.1,589.1 282.7,591.0 283.3,590.9 283.9,591.5 284.5,593.0 285.1,594.4 285.7,594.0 286.3,593.2 286.9,593.3 287.5,594.5 288.1,594.5 288.7,594.5 289.3,595.0 289.9,594.3 290.5,594.8 291.1,594.6 291.7,593.4 292.3,593.2 292.9,594.3 293.5,595.7 294.1,595.7 294.7,595.6 295.3,595.7 295.9,594.2 296.5,593.8 297.1,594.1 297.7,595.5 298.3,594.4 298.9,594.0 299.5,593.5 300.1,594.4 300.7,594.0 301.3,595.2 301.9,594.6 302.5,594.2 303.1,595.9 303.7,594.7 304.3,595.4 304.9,594.4 305.5,594.4 306.1,593.5 306.7,595.6 307.3,595.0 307.9,594.4 308.5,593.5 309.1,595.2 309.7,594.2 310.3,595.0 310.9,593.8 311.5,594.5 312.1,594.3 312.7,594.4 313.3,594.7 313.9,593.6 314.5,594.2 315.1,593.3 315.7,594.1 316.3,595.1 316.9,594.7 317.5,595.5 318.1,594.1 318.7,595.5 319.3,593.6 319.9,594.1 320.5,594.6 321.1,596.1 321.7,595.6 322.3,594.3 322.9,595.6 323.5,596.2 324.1,594.6 324.7,595.6 325.3,595.4 325.9,594.9 326.5,594.1 327.1,594.5 327.7,594.5 328.3,594.1 328.9,594.6 329.5,594.7 330.1,594.7 330.7,593.8 331.3,594.2 331.9,593.8 332.5,594.3 333.1,592.3 333.7,592.4 334.3,592.6 334.9,592.3 335.5,591.4 336.1,593.3 336.7,592.8 337.3,593.4 337.9,591.2 338.5,594.0 339.1,593.4 339.7,594.7 340.3,595.3 340.9,595.3 341.5,595.1 342.1,596.3 342.7,595.3 343.3,594.4 343.9,594.6 344.5,594.7 345.1,594.9 345.7,595.8 346.3,594.5 346.9,594.9 347.5,595.6 348.1,594.8 348.7,594.7 349.3,594.0 349.9,594.1 350.5,593.8 351.1,594.7 351.7,593.7 352.3,594.0 352.9,594.7 353.5,594.2 354.1,594.2 354.7,595.7 355.3,593.8 355.9,594.7 356.5,594.0 357.1,594.6 357.7,594.5 358.3,596.0 358.9,594.2 359.5,594.0 360.1,594.4 360.7,595.5 361.3,596.4 361.9,596.1 362.5,595.5" fill="none" stroke="#1c6b5b" stroke-width="2.5" stroke-linejoin="round"/>
<polyline points="41.5,644.8 42.1,643.7 42.7,644.6 43.3,644.7 43.9,644.9 44.5,643.8 45.1,643.8 45.7,643.4 46.3,643.7 46.9,644.4 47.5,645.5 48.1,643.7 48.7,645.4 49.3,645.8 49.9,645.9 50.5,644.0 51.1,645.0 51.7,644.2 52.3,644.4 52.9,643.8 53.5,644.2 54.1,644.2 54.7,643.3 55.3,644.8 55.9,642.9 56.5,643.7 57.1,644.6 57.7,643.9 58.3,643.6 58.9,643.2 59.5,644.8 60.1,643.2 60.7,643.7 61.3,643.8 61.9,644.0 62.5,643.2 63.1,644.6 63.7,644.9 64.3,643.2 64.9,643.2 65.5,644.7 66.1,645.2 66.7,643.4 67.3,644.5 67.9,643.5 68.5,644.3 69.1,645.2 69.7,643.4 70.3,644.9 70.9,643.4 71.5,643.1 72.1,644.3 72.7,641.4 73.3,642.2 73.9,641.5 74.5,639.0 75.1,641.0 75.7,640.6 76.3,641.6 76.9,643.7 77.5,643.1 78.1,645.0 78.7,644.6 79.3,643.6 79.9,645.0 80.5,644.1 81.1,643.7 81.7,643.6 82.3,644.5 82.9,644.4 83.5,642.9 84.1,644.8 84.7,644.2 85.3,643.3 85.9,643.4 86.5,642.9 87.1,639.9 87.7,641.1 88.3,639.9 88.9,637.6 89.5,638.5 90.1,639.6 90.7,639.1 91.3,640.7 91.9,641.1 92.5,642.6 93.1,642.8 93.7,643.4 94.3,644.3 94.9,644.5 95.5,645.2 96.1,643.9 96.7,645.5 97.3,643.7 97.9,643.7 98.5,645.2 99.1,645.2 99.7,645.2 100.3,644.9 100.9,644.6 101.5,643.9 102.1,642.2 102.7,644.7 103.3,643.7 103.9,645.2 104.5,643.9 105.1,645.7 105.7,645.1 106.3,643.4 106.9,646.0 107.5,645.7 108.1,645.2 108.7,644.0 109.3,645.7 109.9,644.8 110.5,645.3 111.1,645.8 111.7,643.7 112.3,645.4 112.9,644.9 113.5,644.1 114.1,645.1 114.7,644.5 115.3,645.6 115.9,646.3 116.5,645.4 117.1,645.3 117.7,645.9 118.3,645.8 118.9,645.9 119.5,643.2 120.1,644.9 120.7,645.1 121.3,644.0 121.9,645.8 122.5,644.4 123.1,645.6 123.7,645.3 124.3,643.2 124.9,643.4 125.5,643.5 126.1,644.3 126.7,643.5 127.3,644.0 127.9,645.0 128.5,644.0 129.1,643.2 129.7,643.2 130.3,642.0 130.9,640.3 131.5,640.2 132.1,639.6 132.7,639.5 133.3,640.6 133.9,640.7 134.5,642.4 135.1,642.9 135.7,643.5 136.3,645.5 136.9,644.6 137.5,644.0 138.1,645.7 138.7,645.9 139.3,644.5 139.9,645.4 140.5,644.5 141.1,642.2 141.7,643.1 142.3,643.9 142.9,645.0 143.5,642.5 144.1,645.4 144.7,643.8 145.3,645.2 145.9,644.8 146.5,645.7 147.1,645.8 147.7,645.2 148.3,644.5 148.9,644.4 149.5,645.2 150.1,645.6 150.7,645.1 151.3,645.5 151.9,644.7 152.5,643.7 153.1,644.7 153.7,644.1 154.3,643.9 154.9,645.3 155.5,646.3 156.1,644.8 156.7,645.5 157.3,643.9 157.9,645.5 158.5,645.2 159.1,644.5 159.7,645.8 160.3,645.4 160.9,644.6 161.5,645.2 162.1,644.5 162.7,645.2 163.3,646.4 163.9,644.6 164.5,646.5 165.1,644.4 165.7,646.5 166.3,644.7 166.9,645.0 167.5,644.8 168.1,645.4 168.7,644.7 169.3,644.2 169.9,645.2 170.5,645.9 171.1,646.2 171.7,644.3 172.3,646.0 172.9,646.7 173.5,644.9 174.1,644.6 174.7,646.3 175.3,644.4 175.9,644.8 176.5,645.4 177.1,646.0 177.7,646.2 178.3,645.3 178.9,644.7 179.5,644.7 180.1,645.8 180.7,644.6 181.3,645.4 181.9,643.9 182.5,645.7 183.1,645.2 183.7,646.2 184.3,644.7 184.9,643.8 185.5,644.7 186.1,644.6 186.7,644.4 187.3,644.5 187.9,645.9 188.5,644.3 189.1,645.9 189.7,645.0 190.3,646.2 190.9,645.6 191.5,644.7 192.1,643.9 192.7,645.6 193.3,644.8 193.9,643.4 194.5,642.5 195.1,637.9 195.7,632.4 196.3,628.1 196.9,621.6 197.5,611.8 198.1,606.1 198.7,605.1 199.3,610.2 199.9,617.8 200.5,625.7 201.1,633.7 201.7,638.6 202.3,640.3 202.9,640.9 203.5,643.9 204.1,643.7 204.7,645.7 205.3,643.3 205.9,644.5 206.5,645.2 207.1,644.8 207.7,644.7 208.3,646.1 208.9,644.6 209.5,646.7 210.1,645.6 210.7,644.1 211.3,644.3 211.9,645.0 212.5,644.6 213.1,642.9 213.7,645.0 214.3,644.7 214.9,645.9 215.5,645.5 216.1,646.1 216.7,646.4 217.3,645.4 217.9,644.2 218.5,646.0 219.1,645.4 219.7,645.4 220.3,645.4 220.9,646.3 221.5,645.0 222.1,647.2 222.7,645.0 223.3,646.8 223.9,644.4 224.5,646.2 225.1,644.8 225.7,644.8 226.3,645.4 226.9,645.7 227.5,644.3 228.1,646.5 228.7,645.7 229.3,645.8 229.9,644.6 230.5,645.3 231.1,645.5 231.7,645.7 232.3,646.3 232.9,645.5 233.5,646.4 234.1,645.4 234.7,644.8 235.3,646.0 235.9,646.8 236.5,644.5 237.1,645.9 237.7,645.1 238.3,645.8 238.9,646.0 239.5,645.3 240.1,645.3 240.7,646.1 241.3,646.3 241.9,646.2 242.5,646.2 243.1,646.8 243.7,646.0 244.3,646.3 244.9,645.3 245.5,646.1 246.1,647.2 246.7,645.0 247.3,644.9 247.9,646.1 248.5,645.5 249.1,646.1 249.7,646.2 250.3,645.5 250.9,646.6 251.5,644.6 252.1,645.6 252.7,645.7 253.3,645.7 253.9,644.6 254.5,645.2 255.1,647.3 255.7,646.5 256.3,645.9 256.9,647.0 257.5,647.2 258.1,645.4 258.7,645.7 259.3,645.9 259.9,644.9 260.5,647.1 261.1,646.6 261.7,646.4 262.3,644.9 262.9,645.4 263.5,645.0 264.1,646.6 264.7,645.5 265.3,645.5 265.9,646.0 266.5,645.0 267.1,644.6 267.7,646.0 268.3,646.0 268.9,644.7 269.5,644.6 270.1,644.8 270.7,646.0 271.3,646.4 271.9,647.2 272.5,647.6 273.1,645.2 273.7,646.1 274.3,645.1 274.9,646.9 275.5,645.8 276.1,646.7 276.7,645.1 277.3,644.2 277.9,643.7 278.5,643.3 279.1,641.9 279.7,639.0 280.3,638.6 280.9,637.2 281.5,637.3 282.1,638.9 282.7,641.8 283.3,641.9 283.9,642.9 284.5,644.8 285.1,645.6 285.7,645.1 286.3,646.5 286.9,645.1 287.5,646.9 288.1,645.4 288.7,646.1 289.3,647.0 289.9,646.3 290.5,646.3 291.1,646.2 291.7,646.5 292.3,645.8 292.9,647.6 293.5,646.8 294.1,646.3 294.7,646.9 295.3,646.7 295.9,646.3 296.5,647.5 297.1,647.8 297.7,646.5 298.3,646.5 298.9,647.8 299.5,646.4 300.1,645.4 300.7,646.5 301.3,646.7 301.9,646.9 302.5,646.6 303.1,648.1 303.7,646.6 304.3,647.4 304.9,647.2 305.5,647.7 306.1,646.8 306.7,646.4 307.3,645.3 307.9,647.3 308.5,647.0 309.1,647.3 309.7,646.1 310.3,647.6 310.9,646.5 311.5,648.4 312.1,646.6 312.7,647.4 313.3,646.5 313.9,646.7 314.5,647.9 315.1,647.9 315.7,647.1 316.3,647.4 316.9,647.0 317.5,644.6 318.1,646.5 318.7,645.7 319.3,648.0 319.9,646.4 320.5,647.2 321.1,646.3 321.7,646.1 322.3,646.3 322.9,646.3 323.5,647.2 324.1,645.9 324.7,645.9 325.3,646.6 325.9,646.8 326.5,645.6 327.1,646.4 327.7,647.4 328.3,646.9 328.9,647.1 329.5,646.7 330.1,647.1 330.7,645.9 331.3,645.6 331.9,645.9 332.5,646.2 333.1,643.6 333.7,644.5 334.3,642.9 334.9,643.3 335.5,643.6 336.1,643.7 336.7,644.6 337.3,646.6 337.9,645.2 338.5,646.2 339.1,646.5 339.7,646.5 340.3,647.1 340.9,647.1 341.5,647.2 342.1,647.6 342.7,645.6 343.3,647.4 343.9,646.9 344.5,645.8 345.1,647.1 345.7,645.2 346.3,647.5 346.9,646.0 347.5,647.1 348.1,646.9 348.7,646.4 349.3,646.6 349.9,647.2 350.5,648.4 351.1,646.8 351.7,648.5 352.3,648.2 352.9,648.2 353.5,648.2 354.1,647.3 354.7,646.4 355.3,647.7 355.9,646.5 356.5,646.0 357.1,647.4 357.7,647.5 358.3,646.2 358.9,647.7 359.5,647.4 360.1,647.1 360.7,647.3 361.3,647.2 361.9,647.4 362.5,647.9" fill="none" stroke="#2e8b22" stroke-width="2.5" stroke-linejoin="round"/>
<polyline points="41.5,712.3 42.1,711.9 42.7,711.8 43.3,710.6 43.9,711.0 44.5,711.4 45.1,710.4 45.7,710.3 46.3,710.4 46.9,710.6 47.5,710.3 48.1,710.5 48.7,710.2 49.3,710.7 49.9,710.9 50.5,710.0 51.1,709.9 51.7,711.6 52.3,710.6 52.9,710.2 53.5,711.4 54.1,710.6 54.7,711.4 55.3,711.9 55.9,711.1 56.5,711.9 57.1,712.5 57.7,711.4 58.3,711.9 58.9,710.4 59.5,710.4 60.1,710.3 60.7,712.0 61.3,711.8 61.9,712.5 62.5,710.9 63.1,711.1 63.7,710.9 64.3,710.5 64.9,711.2 65.5,711.3 66.1,711.4 66.7,712.3 67.3,712.2 67.9,710.5 68.5,712.7 69.1,710.5 69.7,711.3 70.3,712.0 70.9,709.9 71.5,709.5 72.1,709.1 72.7,709.9 73.3,709.2 73.9,706.4 74.5,706.2 75.1,706.3 75.7,709.0 76.3,708.9 76.9,711.0 77.5,711.7 78.1,712.4 78.7,711.0 79.3,712.7 79.9,711.0 80.5,711.2 81.1,711.1 81.7,711.1 82.3,711.6 82.9,712.2 83.5,710.5 84.1,709.5 84.7,711.7 85.3,711.8 85.9,709.8 86.5,710.3 87.1,708.6 87.7,709.3 88.3,706.9 88.9,707.2 89.5,708.2 90.1,708.1 90.7,709.1 91.3,708.9 91.9,710.2 92.5,710.7 93.1,712.1 93.7,711.2 94.3,711.3 94.9,712.0 95.5,711.0 96.1,711.8 96.7,711.4 97.3,710.6 97.9,710.7 98.5,712.1 99.1,710.0 99.7,710.7 100.3,711.8 100.9,710.7 101.5,712.5 102.1,712.1 102.7,711.8 103.3,712.7 103.9,712.1 104.5,711.1 105.1,711.6 105.7,713.0 106.3,712.4 106.9,710.7 107.5,712.5 108.1,712.7 108.7,712.6 109.3,712.8 109.9,712.4 110.5,711.6 111.1,712.2 111.7,713.4 112.3,711.8 112.9,711.3 113.5,710.6 114.1,711.6 114.7,711.8 115.3,713.0 115.9,712.6 116.5,710.8 117.1,711.4 117.7,712.0 118.3,712.2 118.9,712.6 119.5,712.4 120.1,712.4 120.7,712.1 121.3,712.4 121.9,711.8 122.5,710.8 123.1,712.0 123.7,710.6 124.3,712.1 124.9,711.7 125.5,712.5 126.1,712.2 126.7,710.5 127.3,711.4 127.9,710.4 128.5,710.2 129.1,711.3 129.7,710.1 130.3,709.3 130.9,706.8 131.5,705.8 132.1,703.8 132.7,705.0 133.3,704.6 133.9,706.3 134.5,709.0 135.1,709.4 135.7,710.4 136.3,711.6 136.9,711.3 137.5,713.2 138.1,712.3 138.7,712.3 139.3,712.2 139.9,711.5 140.5,712.1 141.1,712.3 141.7,711.7 142.3,710.8 142.9,710.9 143.5,711.6 144.1,711.4 144.7,713.1 145.3,711.6 145.9,711.1 146.5,710.2 147.1,711.7 147.7,711.0 148.3,712.4 148.9,711.3 149.5,712.8 150.1,710.5 150.7,711.0 151.3,710.5 151.9,710.9 152.5,712.5 153.1,711.5 153.7,711.9 154.3,711.5 154.9,711.4 155.5,712.5 156.1,711.2 156.7,711.2 157.3,711.7 157.9,712.5 158.5,713.2 159.1,712.8 159.7,711.4 160.3,712.6 160.9,712.5 161.5,713.5 162.1,712.5 162.7,713.7 163.3,712.6 163.9,712.3 164.5,711.5 165.1,711.8 165.7,711.1 166.3,712.4 166.9,711.5 167.5,712.0 168.1,713.6 168.7,712.9 169.3,711.9 169.9,712.4 170.5,711.2 171.1,712.1 171.7,712.9 172.3,711.9 172.9,711.9 173.5,712.0 174.1,712.2 174.7,713.1 175.3,713.0 175.9,712.7 176.5,711.3 177.1,712.1 177.7,712.1 178.3,713.3 178.9,711.9 179.5,712.7 180.1,712.3 180.7,712.4 181.3,711.2 181.9,711.7 182.5,710.7 183.1,710.5 183.7,710.2 184.3,712.1 184.9,711.7 185.5,710.3 186.1,711.6 186.7,712.9 187.3,711.9 187.9,712.8 188.5,710.6 189.1,711.0 189.7,711.5 190.3,711.3 190.9,711.9 191.5,710.3 192.1,711.2 192.7,711.1 193.3,711.3 193.9,711.1 194.5,708.9 195.1,707.7 195.7,705.3 196.3,701.3 196.9,697.1 197.5,686.3 198.1,676.0 198.7,665.5 199.3,657.9 199.9,660.4 200.5,668.7 201.1,680.2 201.7,690.7 202.3,698.1 202.9,703.4 203.5,705.1 204.1,708.9 204.7,709.6 205.3,711.7 205.9,709.9 206.5,712.6 207.1,711.2 207.7,711.5 208.3,711.9 208.9,711.6 209.5,711.5 210.1,711.2 210.7,713.0 211.3,710.7 211.9,710.9 212.5,711.8 213.1,712.1 213.7,712.1 214.3,711.4 214.9,712.2 215.5,710.6 216.1,712.5 216.7,712.0 217.3,713.1 217.9,712.9 218.5,711.1 219.1,711.2 219.7,711.0 220.3,712.3 220.9,711.7 221.5,713.0 222.1,711.5 222.7,711.9 223.3,713.1 223.9,713.6 224.5,711.4 225.1,711.7 225.7,712.1 226.3,712.7 226.9,710.7 227.5,711.0 228.1,712.8 228.7,711.2 229.3,712.0 229.9,712.0 230.5,712.3 231.1,712.9 231.7,710.9 232.3,712.1 232.9,711.0 233.5,711.7 234.1,711.1 234.7,712.4 235.3,712.3 235.9,712.8 236.5,713.1 237.1,712.6 237.7,711.4 238.3,712.7 238.9,711.9 239.5,711.4 240.1,711.8 240.7,711.9 241.3,713.4 241.9,711.6 242.5,711.5 243.1,712.7 243.7,713.2 244.3,712.8 244.9,711.9 245.5,712.7 246.1,712.1 246.7,713.2 247.3,712.0 247.9,713.1 248.5,713.1 249.1,711.8 249.7,711.5 250.3,712.3 250.9,710.7 251.5,713.1 252.1,712.5 252.7,713.0 253.3,712.5 253.9,712.9 254.5,709.3 255.1,713.2 255.7,712.0 256.3,712.6 256.9,713.2 257.5,713.4 258.1,713.0 258.7,713.4 259.3,712.8 259.9,712.1 260.5,711.8 261.1,713.8 261.7,712.0 262.3,712.4 262.9,712.2 263.5,712.6 264.1,711.9 264.7,712.1 265.3,713.5 265.9,712.1 266.5,712.2 267.1,712.3 267.7,713.5 268.3,711.8 268.9,712.1 269.5,712.5 270.1,712.7 270.7,712.3 271.3,713.2 271.9,713.3 272.5,713.6 273.1,712.4 273.7,711.7 274.3,713.2 274.9,713.1 275.5,712.8 276.1,712.2 276.7,712.7 277.3,712.8 277.9,712.4 278.5,712.4 279.1,711.8 279.7,709.3 280.3,707.4 280.9,703.5 281.5,704.6 282.1,704.7 282.7,705.6 283.3,707.1 283.9,708.6 284.5,710.5 285.1,710.6 285.7,712.9 286.3,713.5 286.9,712.1 287.5,712.8 288.1,712.9 288.7,713.5 289.3,712.3 289.9,713.3 290.5,712.0 291.1,711.7 291.7,712.4 292.3,712.7 292.9,712.5 293.5,713.9 294.1,712.8 294.7,714.4 295.3,713.6 295.9,713.9 296.5,713.1 297.1,713.8 297.7,712.3 298.3,713.0 298.9,712.7 299.5,712.1 300.1,713.7 300.7,713.6 301.3,712.8 301.9,713.8 302.5,714.1 303.1,714.0 303.7,713.8 304.3,712.8 304.9,711.2 305.5,712.8 306.1,712.7 306.7,713.5 307.3,713.7 307.9,713.2 308.5,713.5 309.1,712.4 309.7,712.5 310.3,712.6 310.9,712.4 311.5,711.8 312.1,714.3 312.7,712.9 313.3,712.3 313.9,714.0 314.5,712.3 315.1,712.2 315.7,712.7 316.3,714.5 316.9,712.9 317.5,712.4 318.1,712.9 318.7,711.5 319.3,713.1 319.9,711.4 320.5,711.0 321.1,711.7 321.7,711.4 322.3,713.0 322.9,709.8 323.5,711.4 324.1,711.3 324.7,711.6 325.3,711.6 325.9,711.3 326.5,711.5 327.1,712.6 327.7,712.7 328.3,711.6 328.9,713.3 329.5,711.0 330.1,710.3 330.7,712.6 331.3,711.9 331.9,711.9 332.5,712.1 333.1,709.9 333.7,709.9 334.3,711.0 334.9,708.8 335.5,710.0 336.1,710.1 336.7,710.7 337.3,711.7 337.9,712.7 338.5,712.5 339.1,713.4 339.7,713.4 340.3,713.1 340.9,712.7 341.5,713.1 342.1,710.8 342.7,711.9 343.3,712.9 343.9,712.7 344.5,711.8 345.1,713.1 345.7,712.9 346.3,713.3 346.9,712.3 347.5,713.5 348.1,714.3 348.7,714.4 349.3,712.4 349.9,713.3 350.5,712.5 351.1,711.7 351.7,711.6 352.3,711.7 352.9,713.1 353.5,713.6 354.1,712.8 354.7,713.1 355.3,714.4 355.9,714.0 356.5,714.5 357.1,713.2 357.7,714.6 358.3,712.9 358.9,714.1 359.5,711.8 360.1,714.3 360.7,711.1 361.3,712.8 361.9,712.7 362.5,714.4" fill="none" stroke="#8e8e8e" stroke-width="2.5" stroke-linejoin="round"/>
<line x1="74.7" y1="468.0" x2="74.7" y2="718.4" stroke="#000" stroke-width="1.5" stroke-dasharray="3,3" stroke-linecap="butt"/>
<line x1="89.2" y1="467.0" x2="89.2" y2="718.4" stroke="#000" stroke-width="1.5" stroke-dasharray="3,3" stroke-linecap="butt"/>
<line x1="132.4" y1="461.0" x2="132.4" y2="718.4" stroke="#000" stroke-width="1.5" stroke-dasharray="3,3" stroke-linecap="butt"/>
<line x1="198.5" y1="414.0" x2="198.5" y2="718.4" stroke="#000" stroke-width="1.5" stroke-dasharray="3,3" stroke-linecap="butt"/>
<line x1="281.3" y1="465.0" x2="281.3" y2="718.4" stroke="#000" stroke-width="1.5" stroke-dasharray="3,3" stroke-linecap="butt"/>
<path d="M75.70,448.00 L74.66,450.77 L71.71,450.90 L74.02,452.75 L73.23,455.60 L75.70,453.96 L78.17,455.60 L77.38,452.75 L79.69,450.90 L76.74,450.77Z" fill="#000" stroke="none" stroke-width="1" stroke-linejoin="miter"/>
<text x="79.1" y="446.8" font-family="Liberation Serif" font-weight="bold" font-size="13.7" text-anchor="start" fill="#000" transform="rotate(-90 79.1 446.8)">(100)</text>
<path d="M92.00,448.00 L90.96,450.77 L88.01,450.90 L90.32,452.75 L89.53,455.60 L92.00,453.96 L94.47,455.60 L93.68,452.75 L95.99,450.90 L93.04,450.77Z" fill="#000" stroke="none" stroke-width="1" stroke-linejoin="miter"/>
<text x="95.4" y="446.8" font-family="Liberation Serif" font-weight="bold" font-size="13.7" text-anchor="start" fill="#000" transform="rotate(-90 95.4 446.8)">(101)</text>
<path d="M133.80,444.80 L132.76,447.57 L129.81,447.70 L132.12,449.55 L131.33,452.40 L133.80,450.76 L136.27,452.40 L135.48,449.55 L137.79,447.70 L134.84,447.57Z" fill="#000" stroke="none" stroke-width="1" stroke-linejoin="miter"/>
<text x="137.2" y="443.6" font-family="Liberation Serif" font-weight="bold" font-size="13.7" text-anchor="start" fill="#000" transform="rotate(-90 137.2 443.6)">(102)</text>
<path d="M214.90,435.20 L213.86,437.97 L210.91,438.10 L213.22,439.95 L212.43,442.80 L214.90,441.16 L217.37,442.80 L216.58,439.95 L218.89,438.10 L215.94,437.97Z" fill="#000" stroke="none" stroke-width="1" stroke-linejoin="miter"/>
<text x="218.3" y="434.0" font-family="Liberation Serif" font-weight="bold" font-size="13.7" text-anchor="start" fill="#000" transform="rotate(-90 218.3 434.0)">(103)</text>
<path d="M283.00,453.10 L281.96,455.87 L279.01,456.00 L281.32,457.85 L280.53,460.70 L283.00,459.06 L285.47,460.70 L284.68,457.85 L286.99,456.00 L284.04,455.87Z" fill="#000" stroke="none" stroke-width="1" stroke-linejoin="miter"/>
<text x="286.4" y="451.9" font-family="Liberation Serif" font-weight="bold" font-size="13.7" text-anchor="start" fill="#000" transform="rotate(-90 286.4 451.9)">(104)</text>
<path d="M291.90,405.00 L290.52,408.70 L286.57,408.87 L289.66,411.33 L288.61,415.13 L291.90,412.95 L295.19,415.13 L294.14,411.33 L297.23,408.87 L293.28,408.70Z" fill="#000" stroke="none" stroke-width="1" stroke-linejoin="miter"/>
<text x="296.2" y="414.6" font-family="Liberation Serif" font-weight="bold" font-size="17.8" text-anchor="start" fill="#000">-Zr<tspan font-size="12">2</tspan>SeP</text>
<text x="362.2" y="494.1" font-family="Liberation Serif" font-weight="bold" font-size="13.9" text-anchor="end" fill="#000">500 <tspan font-weight="normal">°C</tspan> 7.5E15</text>
<text x="362.2" y="550.1" font-family="Liberation Serif" font-weight="bold" font-size="13.9" text-anchor="end" fill="#000">500 <tspan font-weight="normal">°C</tspan> 7.5E14</text>
<text x="362.2" y="609.2" font-family="Liberation Serif" font-weight="bold" font-size="13.9" text-anchor="end" fill="#000">RT 7.5E15</text>
<text x="362.2" y="662.7" font-family="Liberation Serif" font-weight="bold" font-size="13.9" text-anchor="end" fill="#000">RT 7.5E14</text>
<text x="362.2" y="703.0" font-family="Liberation Serif" font-weight="bold" font-size="13.3" text-anchor="end" fill="#000">virgin</text>
<rect x="40.5" y="396.5" width="323.5" height="321.9" fill="none" stroke="#000" stroke-width="2.2"/>
<line x1="115.0" y1="718.4" x2="115.0" y2="723.9" stroke="#000" stroke-width="2.0" stroke-linecap="butt"/>
<line x1="197.9" y1="718.4" x2="197.9" y2="723.9" stroke="#000" stroke-width="2.0" stroke-linecap="butt"/>
<line x1="280.8" y1="718.4" x2="280.8" y2="723.9" stroke="#000" stroke-width="2.0" stroke-linecap="butt"/>
<line x1="363.7" y1="718.4" x2="363.7" y2="723.9" stroke="#000" stroke-width="2.0" stroke-linecap="butt"/>
<line x1="73.6" y1="718.4" x2="73.6" y2="721.4" stroke="#000" stroke-width="2.0" stroke-linecap="butt"/>
<line x1="156.4" y1="718.4" x2="156.4" y2="721.4" stroke="#000" stroke-width="2.0" stroke-linecap="butt"/>
<line x1="239.3" y1="718.4" x2="239.3" y2="721.4" stroke="#000" stroke-width="2.0" stroke-linecap="butt"/>
<line x1="322.2" y1="718.4" x2="322.2" y2="721.4" stroke="#000" stroke-width="2.0" stroke-linecap="butt"/>
<text x="115.0" y="742.0" font-family="Liberation Serif" font-weight="bold" font-size="16" text-anchor="middle" fill="#000">30</text>
<text x="197.9" y="742.0" font-family="Liberation Serif" font-weight="bold" font-size="16" text-anchor="middle" fill="#000">35</text>
<text x="280.8" y="742.0" font-family="Liberation Serif" font-weight="bold" font-size="16" text-anchor="middle" fill="#000">40</text>
<text x="363.7" y="742.0" font-family="Liberation Serif" font-weight="bold" font-size="16" text-anchor="middle" fill="#000">45</text>
<text x="202.0" y="770.0" font-family="Liberation Serif" font-weight="bold" font-size="21" text-anchor="middle" fill="#000">2<tspan font-weight="normal">θ</tspan> (deg.)</text>
<text x="22.9" y="557.0" font-family="Liberation Serif" font-weight="bold" font-size="21" text-anchor="middle" fill="#000" transform="rotate(-90 22.9 557.0)">Intensity (a.u.)</text>
<text x="0.4" y="418.2" font-family="Liberation Serif" font-weight="bold" font-size="29" text-anchor="start" fill="#000">(b)</text>
<line x1="455.0" y1="7.5" x2="852.3" y2="7.5" stroke="#000" stroke-width="2.4" stroke-linecap="butt"/>
<line x1="455.0" y1="328.0" x2="852.3" y2="328.0" stroke="#000" stroke-width="2.4" stroke-linecap="butt"/>
<line x1="455.0" y1="6.3" x2="455.0" y2="329.2" stroke="#a6cf8c" stroke-width="2.2" stroke-linecap="butt"/>
<line x1="852.3" y1="6.3" x2="852.3" y2="329.2" stroke="#b9b7de" stroke-width="2.2" stroke-linecap="butt"/>
<line x1="449.0" y1="328.0" x2="455.0" y2="328.0" stroke="#a6cf8c" stroke-width="1.6" stroke-linecap="butt"/>
<text x="444.0" y="333.6" font-family="Liberation Serif" font-weight="normal" font-size="16" text-anchor="end" fill="#a9cc90">3.4</text>
<line x1="449.0" y1="247.9" x2="455.0" y2="247.9" stroke="#a6cf8c" stroke-width="1.6" stroke-linecap="butt"/>
<text x="444.0" y="253.5" font-family="Liberation Serif" font-weight="normal" font-size="16" text-anchor="end" fill="#a9cc90">3.6</text>
<line x1="449.0" y1="167.8" x2="455.0" y2="167.8" stroke="#a6cf8c" stroke-width="1.6" stroke-linecap="butt"/>
<text x="444.0" y="173.4" font-family="Liberation Serif" font-weight="normal" font-size="16" text-anchor="end" fill="#a9cc90">3.8</text>
<line x1="449.0" y1="87.6" x2="455.0" y2="87.6" stroke="#a6cf8c" stroke-width="1.6" stroke-linecap="butt"/>
<text x="444.0" y="93.2" font-family="Liberation Serif" font-weight="normal" font-size="16" text-anchor="end" fill="#a9cc90">4.0</text>
<line x1="449.0" y1="7.5" x2="455.0" y2="7.5" stroke="#a6cf8c" stroke-width="1.6" stroke-linecap="butt"/>
<text x="444.0" y="13.1" font-family="Liberation Serif" font-weight="normal" font-size="16" text-anchor="end" fill="#a9cc90">4.2</text>
<line x1="452.0" y1="287.9" x2="455.0" y2="287.9" stroke="#a6cf8c" stroke-width="1.4" stroke-linecap="butt"/>
<line x1="452.0" y1="207.8" x2="455.0" y2="207.8" stroke="#a6cf8c" stroke-width="1.4" stroke-linecap="butt"/>
<line x1="452.0" y1="127.7" x2="455.0" y2="127.7" stroke="#a6cf8c" stroke-width="1.4" stroke-linecap="butt"/>
<line x1="452.0" y1="47.6" x2="455.0" y2="47.6" stroke="#a6cf8c" stroke-width="1.4" stroke-linecap="butt"/>
<line x1="852.3" y1="328.0" x2="858.3" y2="328.0" stroke="#b9b7de" stroke-width="1.6" stroke-linecap="butt"/>
<text x="861.0" y="333.6" font-family="Liberation Serif" font-weight="normal" font-size="16" text-anchor="start" fill="#b4b2da">12.4</text>
<line x1="852.3" y1="168.3" x2="858.3" y2="168.3" stroke="#b9b7de" stroke-width="1.6" stroke-linecap="butt"/>
<text x="861.0" y="173.9" font-family="Liberation Serif" font-weight="normal" font-size="16" text-anchor="start" fill="#b4b2da">12.5</text>
<line x1="852.3" y1="8.5" x2="858.3" y2="8.5" stroke="#b9b7de" stroke-width="1.6" stroke-linecap="butt"/>
<text x="861.0" y="14.1" font-family="Liberation Serif" font-weight="normal" font-size="16" text-anchor="start" fill="#b4b2da">12.6</text>
<line x1="852.3" y1="248.1" x2="855.3" y2="248.1" stroke="#b9b7de" stroke-width="1.4" stroke-linecap="butt"/>
<line x1="852.3" y1="88.4" x2="855.3" y2="88.4" stroke="#b9b7de" stroke-width="1.4" stroke-linecap="butt"/>
<line x1="494.5" y1="328.0" x2="494.5" y2="333.5" stroke="#000" stroke-width="2.0" stroke-linecap="butt"/>
<text x="494.5" y="355.6" font-family="Liberation Serif" font-weight="bold" font-size="16.3" text-anchor="middle" fill="#000">virgin</text>
<line x1="653.7" y1="328.0" x2="653.7" y2="333.5" stroke="#000" stroke-width="2.0" stroke-linecap="butt"/>
<text x="653.7" y="355.6" font-family="Liberation Serif" font-weight="bold" font-size="16.3" text-anchor="middle" fill="#000">7.5E14</text>
<line x1="812.7" y1="328.0" x2="812.7" y2="333.5" stroke="#000" stroke-width="2.0" stroke-linecap="butt"/>
<text x="812.7" y="355.6" font-family="Liberation Serif" font-weight="bold" font-size="16.3" text-anchor="middle" fill="#000">7.5E15</text>
<text x="653.5" y="382.6" font-family="Liberation Serif" font-weight="bold" font-size="21.2" text-anchor="middle" fill="#000">Irradiation fluence (ions/cm<tspan dy="-7.5" font-size="13.5" font-weight="normal">2</tspan><tspan dy="7">)</tspan></text>
<text x="408.2" y="167.3" font-family="Liberation Serif" font-weight="bold" font-size="21.3" text-anchor="middle" fill="#000" transform="rotate(-90 408.2 167.3)">Crystal parameter <tspan font-style="italic">a</tspan> (Å)</text>
<text x="911.8" y="166.5" font-family="Liberation Serif" font-weight="bold" font-size="21.3" text-anchor="middle" fill="#000" transform="rotate(-90 911.8 166.5)">Crystal parameter <tspan font-style="italic">c</tspan> (Å)</text>
<text x="392.4" y="34.4" font-family="Liberation Serif" font-weight="bold" font-size="29.5" text-anchor="start" fill="#000">(c)</text>
<polyline points="494.5,144.0 653.7,95.0 812.7,70.4" fill="none" stroke="#aaa8d2" stroke-width="1.15" stroke-dasharray="6,4.5"/>
<polyline points="494.5,145.3 653.7,137.0 812.7,103.2" fill="none" stroke="#aaa8d2" stroke-width="1.15" stroke-dasharray="6,4.5"/>
<polyline points="494.5,139.5 653.7,107.5 812.7,116.5" fill="none" stroke="#aaa8d2" stroke-width="1.15" stroke-dasharray="6,4.5"/>
<polyline points="494.5,139.5 653.7,126.7 812.7,125.8" fill="none" stroke="#aaa8d2" stroke-width="1.15" stroke-dasharray="6,4.5"/>
<circle cx="494.5" cy="144.0" r="5.1" fill="#fff" stroke="#b9b7de" stroke-width="0.9"/>
<path d="M494.50,133.30 L492.97,137.39 L488.60,137.58 L492.02,140.30 L490.86,144.52 L494.50,142.10 L498.14,144.52 L496.98,140.30 L500.40,137.58 L496.03,137.39Z" fill="#fff" stroke="#b9b7de" stroke-width="0.9" stroke-linejoin="miter"/>
<path d="M494.50,133.30 L492.97,137.39 L488.60,137.58 L492.02,140.30 L490.86,144.52 L494.50,142.10 L498.14,144.52 L496.98,140.30 L500.40,137.58 L496.03,137.39Z" fill="#b9b7de" stroke="none" stroke-width="1" stroke-linejoin="miter"/>
<circle cx="494.5" cy="145.3" r="5.3" fill="url(#gLV)"/>
<circle cx="653.7" cy="95.0" r="5.1" fill="#fff" stroke="#b9b7de" stroke-width="0.9"/>
<path d="M653.70,101.30 L652.17,105.39 L647.80,105.58 L651.22,108.30 L650.06,112.52 L653.70,110.10 L657.34,112.52 L656.18,108.30 L659.60,105.58 L655.23,105.39Z" fill="#fff" stroke="#b9b7de" stroke-width="0.9" stroke-linejoin="miter"/>
<path d="M653.70,120.50 L652.17,124.59 L647.80,124.78 L651.22,127.50 L650.06,131.72 L653.70,129.30 L657.34,131.72 L656.18,127.50 L659.60,124.78 L655.23,124.59Z" fill="#b9b7de" stroke="none" stroke-width="1" stroke-linejoin="miter"/>
<circle cx="653.7" cy="137.0" r="5.3" fill="url(#gLV)"/>
<circle cx="812.7" cy="70.4" r="5.1" fill="#fff" stroke="#b9b7de" stroke-width="0.9"/>
<path d="M812.70,110.30 L811.17,114.39 L806.80,114.58 L810.22,117.30 L809.06,121.52 L812.70,119.10 L816.34,121.52 L815.18,117.30 L818.60,114.58 L814.23,114.39Z" fill="#fff" stroke="#b9b7de" stroke-width="0.9" stroke-linejoin="miter"/>
<path d="M812.70,119.60 L811.17,123.69 L806.80,123.88 L810.22,126.60 L809.06,130.82 L812.70,128.40 L816.34,130.82 L815.18,126.60 L818.60,123.88 L814.23,123.69Z" fill="#b9b7de" stroke="none" stroke-width="1" stroke-linejoin="miter"/>
<circle cx="812.7" cy="103.2" r="5.3" fill="url(#gLV)"/>
<polyline points="494.5,303.3 653.7,284.0 812.7,261.2" fill="none" stroke="#a8d090" stroke-width="1.15" stroke-dasharray="6,4.5"/>
<polyline points="494.5,303.3 653.7,288.5 812.7,279.4" fill="none" stroke="#a8d090" stroke-width="1.15" stroke-dasharray="6,4.5"/>
<polyline points="494.5,198.5 653.7,194.5 812.7,196.0" fill="none" stroke="#a8d090" stroke-width="1.15" stroke-dasharray="6,4.5"/>
<polyline points="494.5,198.5 653.7,197.0 812.7,197.5" fill="none" stroke="#a8d090" stroke-width="1.15" stroke-dasharray="6,4.5"/>
<path d="M494.50,192.30 L492.97,196.39 L488.60,196.58 L492.02,199.30 L490.86,203.52 L494.50,201.10 L498.14,203.52 L496.98,199.30 L500.40,196.58 L496.03,196.39Z" fill="#a6cf8c" stroke="none" stroke-width="1" stroke-linejoin="miter"/>
<path d="M494.50,192.30 L492.97,196.39 L488.60,196.58 L492.02,199.30 L490.86,203.52 L494.50,201.10 L498.14,203.52 L496.98,199.30 L500.40,196.58 L496.03,196.39Z" fill="none" stroke="#a6cf8c" stroke-width="0.9" stroke-linejoin="miter"/>
<circle cx="494.5" cy="303.3" r="5.1" fill="#fff" stroke="#a6cf8c" stroke-width="0.9"/>
<circle cx="494.5" cy="303.3" r="5.3" fill="url(#gGL)"/>
<path d="M653.70,190.80 L652.17,194.89 L647.80,195.08 L651.22,197.80 L650.06,202.02 L653.70,199.60 L657.34,202.02 L656.18,197.80 L659.60,195.08 L655.23,194.89Z" fill="#a6cf8c" stroke="none" stroke-width="1" stroke-linejoin="miter"/>
<path d="M653.70,188.30 L652.17,192.39 L647.80,192.58 L651.22,195.30 L650.06,199.52 L653.70,197.10 L657.34,199.52 L656.18,195.30 L659.60,192.58 L655.23,192.39Z" fill="none" stroke="#a6cf8c" stroke-width="0.9" stroke-linejoin="miter"/>
<circle cx="653.7" cy="284.0" r="5.1" fill="#fff" stroke="#a6cf8c" stroke-width="0.9"/>
<circle cx="653.7" cy="288.5" r="5.3" fill="url(#gGL)"/>
<path d="M812.70,191.30 L811.17,195.39 L806.80,195.58 L810.22,198.30 L809.06,202.52 L812.70,200.10 L816.34,202.52 L815.18,198.30 L818.60,195.58 L814.23,195.39Z" fill="#a6cf8c" stroke="none" stroke-width="1" stroke-linejoin="miter"/>
<path d="M812.70,189.80 L811.17,193.89 L806.80,194.08 L810.22,196.80 L809.06,201.02 L812.70,198.60 L816.34,201.02 L815.18,196.80 L818.60,194.08 L814.23,193.89Z" fill="none" stroke="#a6cf8c" stroke-width="0.9" stroke-linejoin="miter"/>
<circle cx="812.7" cy="261.2" r="5.1" fill="#fff" stroke="#a6cf8c" stroke-width="0.9"/>
<circle cx="812.7" cy="279.4" r="5.3" fill="url(#gGL)"/>
<path d="M464.5,198.5 L473.5,194.3 L473.5,197.3 L483.7,197.3 L483.7,199.7 L473.5,199.7 L473.5,202.7Z" fill="#000"/>
<path d="M464.5,303.3 L473.5,299.1 L473.5,302.1 L483.7,302.1 L483.7,304.5 L473.5,304.5 L473.5,307.5Z" fill="#000"/>
<path d="M841.5,68.8 L832.5,64.6 L832.5,67.6 L821.3,67.6 L821.3,70.0 L832.5,70.0 L832.5,73.0Z" fill="#000"/>
<path d="M841.5,103.0 L832.5,98.8 L832.5,101.8 L821.3,101.8 L821.3,104.2 L832.5,104.2 L832.5,107.2Z" fill="#000"/>
<path d="M841.5,115.3 L832.5,111.1 L832.5,114.1 L821.3,114.1 L821.3,116.5 L832.5,116.5 L832.5,119.5Z" fill="#000"/>
<path d="M841.5,125.8 L832.5,121.6 L832.5,124.6 L821.3,124.6 L821.3,127.0 L832.5,127.0 L832.5,130.0Z" fill="#000"/>
<rect x="472.1" y="13.1" width="150.9" height="87.9" fill="#fff" stroke="#555" stroke-width="1.1" stroke-dasharray="3,2.2"/>
<circle cx="490.6" cy="25.3" r="4.4" fill="#fff" stroke="#333" stroke-width="0.8"/>
<circle cx="490.6" cy="46.6" r="5.1" fill="url(#gBK)"/>
<path d="M490.60,61.90 L489.22,65.60 L485.27,65.77 L488.36,68.23 L487.31,72.03 L490.60,69.85 L493.89,72.03 L492.84,68.23 L495.93,65.77 L491.98,65.60Z" fill="#fff" stroke="#000" stroke-width="0.9" stroke-linejoin="miter"/>
<path d="M490.60,82.30 L489.17,86.13 L485.08,86.31 L488.28,88.85 L487.19,92.79 L490.60,90.54 L494.01,92.79 L492.92,88.85 L496.12,86.31 L492.03,86.13Z" fill="#000" stroke="none" stroke-width="1" stroke-linejoin="miter"/>
<text x="513.2" y="30.6" font-family="Liberation Serif" font-weight="bold" font-size="16.4" text-anchor="start" fill="#000">Zr<tspan font-size="11">2</tspan>SeC-RT</text>
<text x="513.2" y="51.8" font-family="Liberation Serif" font-weight="bold" font-size="16.4" text-anchor="start" fill="#000">Zr<tspan font-size="11">2</tspan>SeC-500 <tspan font-weight="normal">°C</tspan></text>
<text x="513.2" y="72.4" font-family="Liberation Serif" font-weight="bold" font-size="16.4" text-anchor="start" fill="#000">Zr<tspan font-size="11">2</tspan>SeP-RT</text>
<text x="513.2" y="93.3" font-family="Liberation Serif" font-weight="bold" font-size="16.4" text-anchor="start" fill="#000">Zr<tspan font-size="11">2</tspan>SeP-500 <tspan font-weight="normal">°C</tspan></text>
<path d="M456.6,719.0 L456.6,396.6 L799.0,396.6 M807.0,396.6 L858.0,396.6 L858.0,719.0 L807.0,719.0 M799.0,719.0 L456.6,719.0" fill="none" stroke="#000" stroke-width="2.4"/>
<path d="M795.0,402.6 L802.0,390.6 M802.0,402.6 L809.0,390.6" stroke="#000" stroke-width="2.2" fill="none"/>
<path d="M795.0,725.0 L802.0,713.0 M802.0,725.0 L809.0,713.0" stroke="#000" stroke-width="2.2" fill="none"/>
<line x1="450.6" y1="718.7" x2="456.6" y2="718.7" stroke="#000" stroke-width="2.0" stroke-linecap="butt"/>
<text x="446.0" y="724.3" font-family="Liberation Serif" font-weight="bold" font-size="16.2" text-anchor="end" fill="#000">-3</text>
<line x1="450.6" y1="689.3" x2="456.6" y2="689.3" stroke="#000" stroke-width="2.0" stroke-linecap="butt"/>
<text x="446.0" y="694.9" font-family="Liberation Serif" font-weight="bold" font-size="16.2" text-anchor="end" fill="#000">-2</text>
<line x1="450.6" y1="660.0" x2="456.6" y2="660.0" stroke="#000" stroke-width="2.0" stroke-linecap="butt"/>
<text x="446.0" y="665.6" font-family="Liberation Serif" font-weight="bold" font-size="16.2" text-anchor="end" fill="#000">-1</text>
<line x1="450.6" y1="630.7" x2="456.6" y2="630.7" stroke="#000" stroke-width="2.0" stroke-linecap="butt"/>
<text x="446.0" y="636.3" font-family="Liberation Serif" font-weight="bold" font-size="16.2" text-anchor="end" fill="#000">0</text>
<line x1="450.6" y1="601.4" x2="456.6" y2="601.4" stroke="#000" stroke-width="2.0" stroke-linecap="butt"/>
<text x="446.0" y="607.0" font-family="Liberation Serif" font-weight="bold" font-size="16.2" text-anchor="end" fill="#000">1</text>
<line x1="450.6" y1="572.1" x2="456.6" y2="572.1" stroke="#000" stroke-width="2.0" stroke-linecap="butt"/>
<text x="446.0" y="577.7" font-family="Liberation Serif" font-weight="bold" font-size="16.2" text-anchor="end" fill="#000">2</text>
<line x1="450.6" y1="542.7" x2="456.6" y2="542.7" stroke="#000" stroke-width="2.0" stroke-linecap="butt"/>
<text x="446.0" y="548.3" font-family="Liberation Serif" font-weight="bold" font-size="16.2" text-anchor="end" fill="#000">3</text>
<line x1="450.6" y1="513.4" x2="456.6" y2="513.4" stroke="#000" stroke-width="2.0" stroke-linecap="butt"/>
<text x="446.0" y="519.0" font-family="Liberation Serif" font-weight="bold" font-size="16.2" text-anchor="end" fill="#000">4</text>
<line x1="450.6" y1="484.1" x2="456.6" y2="484.1" stroke="#000" stroke-width="2.0" stroke-linecap="butt"/>
<text x="446.0" y="489.7" font-family="Liberation Serif" font-weight="bold" font-size="16.2" text-anchor="end" fill="#000">5</text>
<line x1="450.6" y1="454.8" x2="456.6" y2="454.8" stroke="#000" stroke-width="2.0" stroke-linecap="butt"/>
<text x="446.0" y="460.4" font-family="Liberation Serif" font-weight="bold" font-size="16.2" text-anchor="end" fill="#000">6</text>
<line x1="450.6" y1="425.5" x2="456.6" y2="425.5" stroke="#000" stroke-width="2.0" stroke-linecap="butt"/>
<text x="446.0" y="431.1" font-family="Liberation Serif" font-weight="bold" font-size="16.2" text-anchor="end" fill="#000">7</text>
<line x1="450.6" y1="396.1" x2="456.6" y2="396.1" stroke="#000" stroke-width="2.0" stroke-linecap="butt"/>
<text x="446.0" y="401.7" font-family="Liberation Serif" font-weight="bold" font-size="16.2" text-anchor="end" fill="#000">8</text>
<line x1="453.6" y1="704.0" x2="456.6" y2="704.0" stroke="#000" stroke-width="1.8" stroke-linecap="butt"/>
<line x1="453.6" y1="674.7" x2="456.6" y2="674.7" stroke="#000" stroke-width="1.8" stroke-linecap="butt"/>
<line x1="453.6" y1="645.4" x2="456.6" y2="645.4" stroke="#000" stroke-width="1.8" stroke-linecap="butt"/>
<line x1="453.6" y1="616.0" x2="456.6" y2="616.0" stroke="#000" stroke-width="1.8" stroke-linecap="butt"/>
<line x1="453.6" y1="586.7" x2="456.6" y2="586.7" stroke="#000" stroke-width="1.8" stroke-linecap="butt"/>
<line x1="453.6" y1="557.4" x2="456.6" y2="557.4" stroke="#000" stroke-width="1.8" stroke-linecap="butt"/>
<line x1="453.6" y1="528.1" x2="456.6" y2="528.1" stroke="#000" stroke-width="1.8" stroke-linecap="butt"/>
<line x1="453.6" y1="498.8" x2="456.6" y2="498.8" stroke="#000" stroke-width="1.8" stroke-linecap="butt"/>
<line x1="453.6" y1="469.4" x2="456.6" y2="469.4" stroke="#000" stroke-width="1.8" stroke-linecap="butt"/>
<line x1="453.6" y1="440.1" x2="456.6" y2="440.1" stroke="#000" stroke-width="1.8" stroke-linecap="butt"/>
<line x1="453.6" y1="410.8" x2="456.6" y2="410.8" stroke="#000" stroke-width="1.8" stroke-linecap="butt"/>
<line x1="483.1" y1="719.0" x2="483.1" y2="724.5" stroke="#000" stroke-width="2.0" stroke-linecap="butt"/>
<text x="483.1" y="740.7" font-family="Liberation Serif" font-weight="bold" font-size="14.5" text-anchor="middle" fill="#000">0</text>
<line x1="535.7" y1="719.0" x2="535.7" y2="724.5" stroke="#000" stroke-width="2.0" stroke-linecap="butt"/>
<text x="535.7" y="740.7" font-family="Liberation Serif" font-weight="bold" font-size="14.5" text-anchor="middle" fill="#000">2</text>
<line x1="588.3" y1="719.0" x2="588.3" y2="724.5" stroke="#000" stroke-width="2.0" stroke-linecap="butt"/>
<text x="588.3" y="740.7" font-family="Liberation Serif" font-weight="bold" font-size="14.5" text-anchor="middle" fill="#000">4</text>
<line x1="640.9" y1="719.0" x2="640.9" y2="724.5" stroke="#000" stroke-width="2.0" stroke-linecap="butt"/>
<text x="640.9" y="740.7" font-family="Liberation Serif" font-weight="bold" font-size="14.5" text-anchor="middle" fill="#000">6</text>
<line x1="693.5" y1="719.0" x2="693.5" y2="724.5" stroke="#000" stroke-width="2.0" stroke-linecap="butt"/>
<text x="693.5" y="740.7" font-family="Liberation Serif" font-weight="bold" font-size="14.5" text-anchor="middle" fill="#000">8</text>
<line x1="746.1" y1="719.0" x2="746.1" y2="724.5" stroke="#000" stroke-width="2.0" stroke-linecap="butt"/>
<text x="746.1" y="740.7" font-family="Liberation Serif" font-weight="bold" font-size="14.5" text-anchor="middle" fill="#000">10</text>
<line x1="831.4" y1="719.0" x2="831.4" y2="724.5" stroke="#000" stroke-width="2.0" stroke-linecap="butt"/>
<text x="831.4" y="740.7" font-family="Liberation Serif" font-weight="bold" font-size="14.5" text-anchor="middle" fill="#000">30</text>
<line x1="509.4" y1="719.0" x2="509.4" y2="722.0" stroke="#000" stroke-width="1.8" stroke-linecap="butt"/>
<line x1="562.0" y1="719.0" x2="562.0" y2="722.0" stroke="#000" stroke-width="1.8" stroke-linecap="butt"/>
<line x1="614.6" y1="719.0" x2="614.6" y2="722.0" stroke="#000" stroke-width="1.8" stroke-linecap="butt"/>
<line x1="667.2" y1="719.0" x2="667.2" y2="722.0" stroke="#000" stroke-width="1.8" stroke-linecap="butt"/>
<line x1="719.8" y1="719.0" x2="719.8" y2="722.0" stroke="#000" stroke-width="1.8" stroke-linecap="butt"/>
<line x1="772.4" y1="719.0" x2="772.4" y2="722.0" stroke="#000" stroke-width="1.8" stroke-linecap="butt"/>
<line x1="456.6" y1="630.6" x2="858.0" y2="630.6" stroke="#000" stroke-width="1.6" stroke-dasharray="6.3,6.3" stroke-dashoffset="3.3"/>
<text x="658.8" y="770.6" font-family="Liberation Serif" font-weight="bold" font-size="22.8" text-anchor="middle" fill="#000">Damage (dpa)</text>
<text x="423.5" y="557.7" font-family="Liberation Serif" font-weight="bold" font-size="23.2" text-anchor="middle" fill="#000" transform="rotate(-90 423.5 557.7)">Δc-Δa (%)</text>
<text x="390.8" y="418.0" font-family="Liberation Serif" font-weight="bold" font-size="29.3" text-anchor="start" fill="#000">(d)</text>
<rect x="480.6" y="612.8" width="9.4" height="9.4" fill="#f08aa8" stroke="none" stroke-width="1.0"/>
<rect x="480.6" y="618.8" width="9.4" height="9.4" fill="#f08aa8" stroke="none" stroke-width="1.0"/>
<rect x="480.3" y="605.1" width="9.4" height="9.4" fill="#178c2a" stroke="none" stroke-width="1.0"/>
<path d="M492.4,603.6 L498.1,609.6 L492.4,615.6 L486.7,609.6Z" fill="#1a8fc6" stroke="none" stroke-width="1.0"/>
<path d="M493.0,595.8 L499.0,605.4 L487.0,605.4Z" fill="#1a8fc6" stroke="none" stroke-width="1.0"/>
<path d="M491.7,597.5 L497.7,587.9 L485.7,587.9Z" fill="#178c2a" stroke="none" stroke-width="1.0"/>
<rect x="504.8" y="618.6" width="9.4" height="9.4" fill="#f08aa8" stroke="none" stroke-width="1.0"/>
<path d="M511.6,591.0 L517.6,581.4 L505.6,581.4Z" fill="#1a8fc6" stroke="none" stroke-width="1.0"/>
<path d="M538.50,572.62 L532.34,577.10 L534.69,584.34 L542.31,584.34 L544.66,577.10Z" fill="#e8803a" stroke="none" stroke-width="1.0"/>
<path d="M534.6,589.0 L540.6,579.4 L528.6,579.4Z" fill="#f5b91a" stroke="none" stroke-width="1.0"/>
<path d="M530.8,611.0 L536.8,620.6 L524.8,620.6Z" fill="#dc1c24" stroke="none" stroke-width="1.0"/>
<path d="M535.4,634.5 L541.4,624.9 L529.4,624.9Z" fill="#8a0c12" stroke="none" stroke-width="1.0"/>
<path d="M579.8,613.5 L585.8,623.1 L573.8,623.1Z" fill="#dc1c24" stroke="none" stroke-width="1.0"/>
<path d="M492.0,497.3 L498.0,506.9 L486.0,506.9Z" fill="#178c2a" stroke="none" stroke-width="1.0"/>
<path d="M534.70,503.92 L528.54,508.40 L530.89,515.64 L538.51,515.64 L540.86,508.40Z" fill="#f5b91a" stroke="none" stroke-width="1.0"/>
<path d="M537.80,499.12 L531.64,503.60 L533.99,510.84 L541.61,510.84 L543.96,503.60Z" fill="#1a8fc6" stroke="none" stroke-width="1.0"/>
<path d="M593.30,532.22 L587.14,536.70 L589.49,543.94 L597.11,543.94 L599.46,536.70Z" fill="#1a8fc6" stroke="none" stroke-width="1.0"/>
<rect x="504.8" y="537.8" width="9.4" height="9.4" fill="#178c2a" stroke="none" stroke-width="1.0"/>
<path d="M498.8,555.0 L504.8,545.4 L492.8,545.4Z" fill="#1a8fc6" stroke="none" stroke-width="1.0"/>
<path d="M593.80,564.52 L587.64,569.00 L589.99,576.24 L597.61,576.24 L599.96,569.00Z" fill="#e8803a" stroke="none" stroke-width="1.0"/>
<path d="M510.1,405.8 L515.8,411.8 L510.1,417.8 L504.4,411.8Z" fill="#1a8fc6" stroke="none" stroke-width="1.0"/>
<path d="M619.5,405.1 L625.2,411.1 L619.5,417.1 L613.8,411.1Z" fill="#1a8fc6" stroke="none" stroke-width="1.0"/>
<path d="M561.7,436.3 L567.4,442.3 L561.7,448.3 L556.0,442.3Z" fill="#1a8fc6" stroke="none" stroke-width="1.0"/>
<path d="M616.9,478.8 L622.9,469.2 L610.9,469.2Z" fill="#1a8fc6" stroke="none" stroke-width="1.0"/>
<path d="M630.0,470.0 L636.0,460.4 L624.0,460.4Z" fill="#1a8fc6" stroke="none" stroke-width="1.0"/>
<path d="M640.4,478.8 L646.4,469.2 L634.4,469.2Z" fill="#1a8fc6" stroke="none" stroke-width="1.0"/>
<path d="M704.00,552.62 L697.84,557.10 L700.19,564.34 L707.81,564.34 L710.16,557.10Z" fill="#e8803a" stroke="none" stroke-width="1.0"/>
<path d="M704.00,588.92 L697.84,593.40 L700.19,600.64 L707.81,600.64 L710.16,593.40Z" fill="#1a8fc6" stroke="none" stroke-width="1.0"/>
<path d="M745.80,587.92 L739.64,592.40 L741.99,599.64 L749.61,599.64 L751.96,592.40Z" fill="#f5b91a" stroke="none" stroke-width="1.0"/>
<path d="M831.40,584.92 L825.24,589.40 L827.59,596.64 L835.21,596.64 L837.56,589.40Z" fill="#f5b91a" stroke="none" stroke-width="1.0"/>
<path d="M745.80,612.62 L739.64,617.10 L741.99,624.34 L749.61,624.34 L751.96,617.10Z" fill="#8a0c12" stroke="none" stroke-width="1.0"/>
<path d="M772.3,607.8 L778.3,617.4 L766.3,617.4Z" fill="#dc1c24" stroke="none" stroke-width="1.0"/>
<path d="M831.40,615.62 L825.24,620.10 L827.59,627.34 L835.21,627.34 L837.56,620.10Z" fill="#8a0c12" stroke="none" stroke-width="1.0"/>
<path d="M831.4,532.5 L837.4,542.1 L825.4,542.1Z" fill="#f5b91a" stroke="none" stroke-width="1.0"/>
<circle cx="498.7" cy="662.5" r="5.1" fill="#1a8fc6" stroke="none" stroke-width="1.0" filter="url(#sh)"/>
<circle cx="498.7" cy="660.8" r="5.1" fill="#e8803a" stroke="none" stroke-width="1.0"/>
<path d="M498.70,632.60 L497.07,636.96 L492.42,637.16 L496.06,640.06 L494.82,644.54 L498.70,641.97 L502.58,644.54 L501.34,640.06 L504.98,637.16 L500.33,636.96Z" fill="#1a8fc6" stroke="none" stroke-width="1.0" filter="url(#sh)"/>
<path d="M498.70,627.20 L497.07,631.56 L492.42,631.76 L496.06,634.66 L494.82,639.14 L498.70,636.57 L502.58,639.14 L501.34,634.66 L504.98,631.76 L500.33,631.56Z" fill="#e8803a" stroke="none" stroke-width="1.0"/>
<path d="M640.00,631.20 L638.37,635.56 L633.72,635.76 L637.36,638.66 L636.12,643.14 L640.00,640.57 L643.88,643.14 L642.64,638.66 L646.28,635.76 L641.63,635.56Z" fill="#1a8fc6" stroke="none" stroke-width="1.0" filter="url(#sh)"/>
<path d="M640.00,626.60 L638.37,630.96 L633.72,631.16 L637.36,634.06 L636.12,638.54 L640.00,635.97 L643.88,638.54 L642.64,634.06 L646.28,631.16 L641.63,630.96Z" fill="#e8803a" stroke="none" stroke-width="1.0"/>
<circle cx="640.0" cy="675.4" r="5.1" fill="#e8803a" stroke="none" stroke-width="1.0" filter="url(#sh)"/>
<circle cx="640.0" cy="710.0" r="5.1" fill="#1a8fc6" stroke="none" stroke-width="1.0" filter="url(#sh)"/>
<rect x="683.0" y="404.5" width="139.5" height="135.3" fill="#fff" stroke="#666" stroke-width="1.1" stroke-dasharray="3,2.5"/>
<text x="704.2" y="473.5" font-family="Liberation Serif" font-weight="bold" font-size="16.9" text-anchor="middle" fill="#000" transform="rotate(-90 704.2 473.5)">Temperature (°C)</text>
<line x1="718.7" y1="536.7" x2="718.7" y2="418.0" stroke="#000" stroke-width="2.6" stroke-linecap="butt"/>
<path d="M718.7,409.5 L714.2,421 L723.2,421Z" fill="#000"/>
<rect x="727.1" y="409.7" width="16.8" height="16.0" rx="2" fill="#8a0c12"/>
<text x="735.5" y="420.9" font-family="Liberation Sans" font-weight="bold" font-size="7.5" text-anchor="middle" fill="#fff">700</text>
<rect x="727.1" y="428.0" width="16.8" height="16.0" rx="2" fill="#dc1c24"/>
<text x="735.5" y="439.2" font-family="Liberation Sans" font-weight="bold" font-size="7.5" text-anchor="middle" fill="#fff">600</text>
<rect x="727.1" y="446.3" width="16.8" height="16.0" rx="2" fill="#f08aa8"/>
<text x="735.5" y="457.5" font-family="Liberation Sans" font-weight="bold" font-size="7.5" text-anchor="middle" fill="#fff">575</text>
<rect x="727.1" y="464.5" width="16.8" height="16.0" rx="2" fill="#e8803a"/>
<text x="735.5" y="475.7" font-family="Liberation Sans" font-weight="bold" font-size="7.5" text-anchor="middle" fill="#fff">500</text>
<rect x="727.1" y="482.8" width="16.8" height="16.0" rx="2" fill="#f5b91a"/>
<text x="735.5" y="494.0" font-family="Liberation Sans" font-weight="bold" font-size="7.5" text-anchor="middle" fill="#fff">400</text>
<rect x="727.1" y="501.1" width="16.8" height="16.0" rx="2" fill="#178c2a"/>
<text x="735.5" y="512.3" font-family="Liberation Sans" font-weight="bold" font-size="7.5" text-anchor="middle" fill="#fff">350</text>
<rect x="727.1" y="519.4" width="16.8" height="16.0" rx="2" fill="#1a8fc6"/>
<text x="735.5" y="530.6" font-family="Liberation Sans" font-weight="bold" font-size="7.5" text-anchor="middle" fill="#fff">RT</text>
<path d="M758.70,409.82 L757.12,414.03 L752.63,414.23 L756.15,417.03 L754.95,421.36 L758.70,418.88 L762.45,421.36 L761.25,417.03 L764.77,414.23 L760.28,414.03Z" fill="none" stroke="#000" stroke-width="1.0"/>
<text x="772.7" y="420.3" font-family="Liberation Serif" font-weight="bold" font-size="13.2" text-anchor="start" fill="#000">Zr<tspan font-size="8.5">2</tspan>SeP</text>
<circle cx="758.7" cy="432.1" r="6.2" fill="none" stroke="#000" stroke-width="1.0"/>
<text x="772.7" y="436.2" font-family="Liberation Serif" font-weight="bold" font-size="13.2" text-anchor="start" fill="#000">Zr<tspan font-size="8.5">2</tspan>SeC</text>
<path d="M758.7,441.8 L764.9,451.7 L752.5,451.7Z" fill="none" stroke="#000" stroke-width="1.0"/>
<text x="772.7" y="452.1" font-family="Liberation Serif" font-weight="bold" font-size="13.2" text-anchor="start" fill="#000">Ti<tspan font-size="8.5">2</tspan>AlC</text>
<path d="M758.7,457.3 L765.0,463.9 L758.7,470.5 L752.4,463.9Z" fill="none" stroke="#000" stroke-width="1.0"/>
<text x="772.7" y="468.0" font-family="Liberation Serif" font-weight="bold" font-size="13.2" text-anchor="start" fill="#000">Cr<tspan font-size="8.5">2</tspan>AlC</text>
<path d="M758.70,474.35 L752.95,478.53 L755.15,485.29 L762.25,485.29 L764.45,478.53Z" fill="none" stroke="#000" stroke-width="1.0"/>
<text x="772.7" y="483.9" font-family="Liberation Serif" font-weight="bold" font-size="13.2" text-anchor="start" fill="#000">Ti<tspan font-size="8.5">3</tspan>AlC<tspan font-size="8.5">2</tspan></text>
<rect x="754.2" y="491.2" width="9.0" height="9.0" fill="none" stroke="#000" stroke-width="1.0"/>
<text x="772.7" y="499.8" font-family="Liberation Serif" font-weight="bold" font-size="13.2" text-anchor="start" fill="#000">Zr<tspan font-size="8.5">3</tspan>AlC<tspan font-size="8.5">2</tspan></text>
<path d="M752.9,511.6 L762.2,505.8 L762.2,517.4Z" fill="none" stroke="#000" stroke-width="1.0"/>
<text x="772.7" y="515.7" font-family="Liberation Serif" font-weight="bold" font-size="13.2" text-anchor="start" fill="#000">Nb<tspan font-size="8.5">4</tspan>AlC<tspan font-size="8.5">3</tspan></text>
<path d="M758.7,533.7 L764.9,523.8 L752.5,523.8Z" fill="none" stroke="#000" stroke-width="1.0"/>
<text x="772.7" y="531.6" font-family="Liberation Serif" font-weight="bold" font-size="13.2" text-anchor="start" fill="#000">Ti<tspan font-size="8.5">3</tspan>SiC<tspan font-size="8.5">2</tspan></text>
</svg></body></html>
